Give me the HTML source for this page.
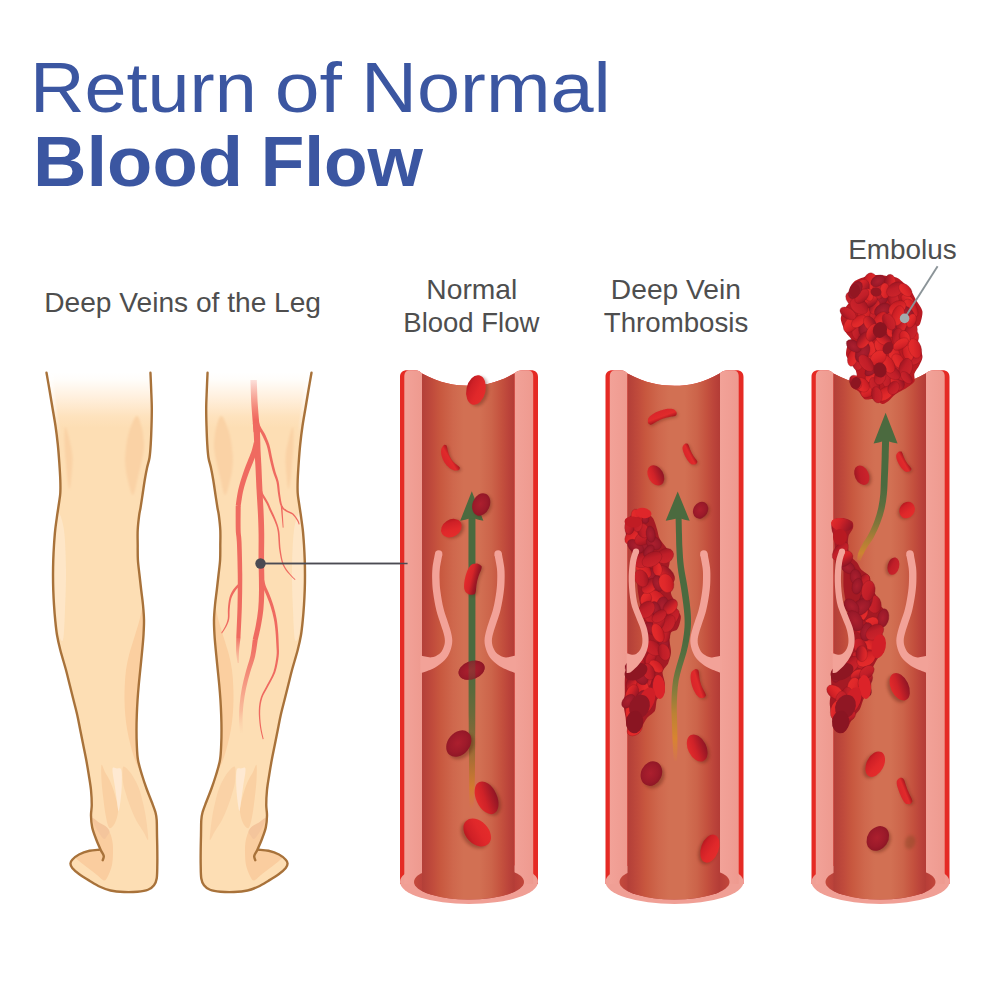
<!DOCTYPE html>
<html>
<head>
<meta charset="utf-8">
<title>Return of Normal Blood Flow</title>
<style>
html,body{margin:0;padding:0;background:#fff;}
body{width:1000px;height:1000px;overflow:hidden;font-family:"Liberation Sans",sans-serif;}
svg{display:block;}
text{font-family:"Liberation Sans",sans-serif;}
</style>
</head>
<body>
<svg width="1000" height="1000" viewBox="0 0 1000 1000">
<defs>
  <!-- lumen gradient -->
  <linearGradient id="lum" x1="0" x2="1" y1="0" y2="0">
    <stop offset="0" stop-color="#b33f38"/>
    <stop offset="0.06" stop-color="#ba453a"/>
    <stop offset="0.12" stop-color="#c14c3c"/>
    <stop offset="0.2" stop-color="#c8583f"/>
    <stop offset="0.34" stop-color="#cf684d"/>
    <stop offset="0.45" stop-color="#d27053"/>
    <stop offset="0.62" stop-color="#d27053"/>
    <stop offset="0.75" stop-color="#cc644a"/>
    <stop offset="0.86" stop-color="#c4513e"/>
    <stop offset="0.94" stop-color="#bb433a"/>
    <stop offset="1" stop-color="#b33c36"/>
  </linearGradient>
  <linearGradient id="lumEnd" x1="0" x2="1" y1="0" y2="0">
    <stop offset="0" stop-color="#c44a3c"/>
    <stop offset="0.08" stop-color="#b9413a"/>
    <stop offset="0.92" stop-color="#b83e38"/>
    <stop offset="1" stop-color="#c2473b"/>
  </linearGradient>
  <linearGradient id="wallL" x1="0" x2="1" y1="0" y2="0">
    <stop offset="0" stop-color="#f2a298"/>
    <stop offset="0.5" stop-color="#f09e94"/>
    <stop offset="1" stop-color="#ee9a8f"/>
  </linearGradient>
  <!-- leg fade -->
  <linearGradient id="legG" gradientUnits="userSpaceOnUse" x1="0" y1="372" x2="0" y2="428">
    <stop offset="0" stop-color="#ffffff"/>
    <stop offset="0.14" stop-color="#fffdfa"/>
    <stop offset="0.45" stop-color="#fff0de"/>
    <stop offset="0.8" stop-color="#fee2bd"/>
    <stop offset="1" stop-color="#fddeb4"/>
  </linearGradient>
  <filter id="bs" x="-30%" y="-30%" width="160%" height="160%"><feGaussianBlur stdDeviation="0.9"/></filter>
  <linearGradient id="veinG" gradientUnits="userSpaceOnUse" x1="0" y1="378" x2="0" y2="420">
    <stop offset="0" stop-color="#f0685e" stop-opacity="0.15"/>
    <stop offset="1" stop-color="#f0685e" stop-opacity="1"/>
  </linearGradient>
  <linearGradient id="veinFade" gradientUnits="userSpaceOnUse" x1="0" y1="640" x2="0" y2="735">
    <stop offset="0" stop-color="#ef6a60"/>
    <stop offset="0.35" stop-color="#f38b78"/>
    <stop offset="0.75" stop-color="#f8b294" stop-opacity="0.8"/>
    <stop offset="1" stop-color="#fbd0a8" stop-opacity="0"/>
  </linearGradient>
  <linearGradient id="veinFade2" gradientUnits="userSpaceOnUse" x1="0" y1="636" x2="0" y2="664">
    <stop offset="0" stop-color="#ef6a60"/>
    <stop offset="1" stop-color="#f6a088" stop-opacity="0.3"/>
  </linearGradient>

  <filter id="bl" x="-50%" y="-50%" width="200%" height="200%"><feGaussianBlur stdDeviation="1.6"/></filter>
  <linearGradient id="cB" x1="0" x2="1" y1="0.3" y2="0.7">
    <stop offset="0" stop-color="#b4181f"/><stop offset="0.22" stop-color="#cf2026"/><stop offset="0.6" stop-color="#e0282a"/><stop offset="1" stop-color="#e52c2b"/>
  </linearGradient>
  <linearGradient id="cK" x1="0" x2="1" y1="0.3" y2="0.7">
    <stop offset="0" stop-color="#9c1622"/><stop offset="0.4" stop-color="#c01e28"/><stop offset="1" stop-color="#cc242b"/>
  </linearGradient>
  <radialGradient id="cD" cx="0.45" cy="0.5" r="0.6">
    <stop offset="0" stop-color="#ac1f2e"/><stop offset="0.6" stop-color="#9c1a2a"/><stop offset="1" stop-color="#8a1524"/>
  </radialGradient>
  <linearGradient id="cM" x1="0" x2="1" y1="0.4" y2="0.6">
    <stop offset="0" stop-color="#e32b2b"/><stop offset="0.4" stop-color="#cf2228"/><stop offset="0.75" stop-color="#a81a26"/><stop offset="1" stop-color="#8e1524"/>
  </linearGradient>
  <linearGradient id="cBc" x1="0" x2="1" y1="0" y2="0">
    <stop offset="0" stop-color="#d9252a"/><stop offset="0.6" stop-color="#e12a2b"/><stop offset="1" stop-color="#a8161e"/>
  </linearGradient>
  <linearGradient id="cMc" x1="0" x2="1" y1="0" y2="0">
    <stop offset="0" stop-color="#e42c2b"/><stop offset="0.45" stop-color="#d52429"/><stop offset="0.8" stop-color="#a01824"/><stop offset="1" stop-color="#8c1422"/>
  </linearGradient>
  <linearGradient id="cDc" x1="0" x2="1" y1="0" y2="0">
    <stop offset="0" stop-color="#a81c2a"/><stop offset="1" stop-color="#8a1524"/>
  </linearGradient>
  <linearGradient id="ag1" gradientUnits="userSpaceOnUse" x1="0" y1="660" x2="0" y2="810">
    <stop offset="0" stop-color="#4b6a3f"/><stop offset="0.2" stop-color="#5a6a3c"/><stop offset="0.37" stop-color="#6c6a3a"/><stop offset="0.53" stop-color="#886838"/><stop offset="0.7" stop-color="#b27034"/><stop offset="0.85" stop-color="#d27a30"/><stop offset="1" stop-color="#d67c34" stop-opacity="0"/>
  </linearGradient>
  <linearGradient id="ag2" gradientUnits="userSpaceOnUse" x1="0" y1="640" x2="0" y2="763">
    <stop offset="0" stop-color="#4b6a3f"/><stop offset="0.22" stop-color="#5f7340"/><stop offset="0.42" stop-color="#887c3c"/><stop offset="0.6" stop-color="#bc8234"/><stop offset="0.8" stop-color="#d88430"/><stop offset="1" stop-color="#da8634" stop-opacity="0"/>
  </linearGradient>
  <linearGradient id="ag3" gradientUnits="userSpaceOnUse" x1="0" y1="486" x2="0" y2="564">
    <stop offset="0" stop-color="#4b6a3f"/><stop offset="0.25" stop-color="#5c6e3e"/><stop offset="0.48" stop-color="#7f763a"/><stop offset="0.68" stop-color="#ac7e36"/><stop offset="0.86" stop-color="#cc8430"/><stop offset="1" stop-color="#d08634" stop-opacity="0"/>
  </linearGradient>
  <!-- vessel body, local x 0..138 -->
  <g id="vessel">
    <!-- outer red silhouette with dipped top -->
    <path d="M0,884 L0,377 C0,372.5 2.5,370.2 7,370.2 L15,370.2 C18.5,370.2 20.5,372 22,373.6 C40,383.5 55,385.8 69,385.8 C83,385.8 98,383 114.5,373.2 C116.5,371.5 119,370.2 123,370.2 L131,370.2 C135.5,370.2 138,372.5 138,377 L138,884 Z" fill="#e52a24"/>
    <!-- bottom pink ellipse -->
    <ellipse cx="69" cy="882" rx="69" ry="22" fill="#f09f95"/>
    <!-- pink walls -->
    <path d="M4.3,884 L4.3,377 C4.3,372.5 6,370.3 10,370.3 L15,370.3 C18.5,370.3 20.5,372 22,373.6 L22,884 Z" fill="url(#wallL)"/>
    <path d="M133.2,884 L133.2,377 C133.2,372.5 131.5,370.3 127.5,370.3 L123,370.3 C119,370.3 116.5,371.5 114.5,373.2 L114.5,884 Z" fill="url(#wallL)"/>
    <!-- lumen opening bottom (inner ellipse) -->
    <ellipse cx="69" cy="882" rx="55" ry="17.5" fill="url(#lumEnd)"/>
    <!-- lumen -->
    <path d="M22,373.6 C40,383.5 55,385.8 69,385.8 C83,385.8 98,383 114.5,373.2 L114.5,891.8 A55,17.5 0 0 1 22,891.1 Z" fill="url(#lum)"/>
  </g>
</defs>

<rect width="1000" height="1000" fill="#ffffff"/>

<!-- TITLE -->
<g fill="#3b56a1">
  <text id="t1a" x="30.01" y="111.50" font-size="69.90" textLength="226.74" lengthAdjust="spacingAndGlyphs">Return</text>
  <text id="t1b" x="274.73" y="111.50" font-size="69.90" textLength="67.27" lengthAdjust="spacingAndGlyphs">of</text>
  <text id="t1c" x="360.95" y="111.50" font-size="69.90" textLength="249.89" lengthAdjust="spacingAndGlyphs">Normal</text>
  <text id="t2a" x="32.95" y="185.60" font-size="71.30" font-weight="bold" textLength="210.10" lengthAdjust="spacingAndGlyphs">Blood</text>
  <text id="t2b" x="260.68" y="185.60" font-size="71.30" font-weight="bold" textLength="162.32" lengthAdjust="spacingAndGlyphs">Flow</text>
</g>

<!-- LABELS -->
<g fill="#4e4e4e">
  <text id="l1" x="44.22" y="311.50" font-size="27.40" textLength="276.80" lengthAdjust="spacingAndGlyphs">Deep Veins of the Leg</text>
  <text id="l2" x="426.32" y="299.30" font-size="27.40" textLength="90.95" lengthAdjust="spacingAndGlyphs">Normal</text>
  <text id="l3" x="403.29" y="332.10" font-size="27.40" textLength="136.13" lengthAdjust="spacingAndGlyphs">Blood Flow</text>
  <text id="l4" x="610.89" y="299.30" font-size="27.40" textLength="130.08" lengthAdjust="spacingAndGlyphs">Deep Vein</text>
  <text id="l5" x="603.79" y="332.10" font-size="27.40" textLength="144.56" lengthAdjust="spacingAndGlyphs">Thrombosis</text>
  <text id="l6" x="848.26" y="259.40" font-size="27.40" textLength="108.48" lengthAdjust="spacingAndGlyphs">Embolus</text>
</g>

<!-- LEGS -->
<g id="legs">
<g id="legL">
<path d="M46.50,372.75 C47.00,375.62 48.50,384.12 49.50,390.00 C50.50,395.88 51.50,402.00 52.50,408.00 C53.50,414.00 54.62,420.00 55.50,426.00 C56.38,432.00 57.12,438.00 57.75,444.00 C58.38,450.00 58.83,456.00 59.25,462.00 C59.67,468.00 60.12,474.83 60.30,480.00 C60.47,485.17 60.52,489.17 60.30,493.00 C60.08,496.83 59.52,499.33 59.00,503.00 C58.48,506.67 57.83,510.50 57.20,515.00 C56.57,519.50 55.73,525.00 55.20,530.00 C54.67,535.00 54.33,540.00 54.00,545.00 C53.67,550.00 53.42,555.00 53.25,560.00 C53.08,565.00 53.00,570.00 53.00,575.00 C53.00,580.00 53.08,585.00 53.25,590.00 C53.42,595.00 53.67,600.00 54.00,605.00 C54.33,610.00 54.70,615.00 55.20,620.00 C55.70,625.00 56.15,630.00 57.00,635.00 C57.85,640.00 58.80,644.17 60.30,650.00 C61.80,655.83 64.42,664.17 66.00,670.00 C67.58,675.83 68.50,680.00 69.75,685.00 C71.00,690.00 72.25,695.00 73.50,700.00 C74.75,705.00 76.12,710.00 77.25,715.00 C78.38,720.00 79.25,725.00 80.25,730.00 C81.25,735.00 82.25,740.00 83.25,745.00 C84.25,750.00 85.33,755.00 86.25,760.00 C87.17,765.00 88.01,770.00 88.80,775.00 C89.59,780.00 90.51,785.00 91.00,790.00 C91.49,795.00 91.75,800.75 91.75,805.00 C91.75,809.25 90.92,811.75 91.00,815.50 C91.08,819.25 91.33,823.50 92.20,827.50 C93.08,831.50 94.83,835.75 96.25,839.50 C97.67,843.25 100.00,848.25 100.75,850.00 L99.25,849.70 C97.62,849.88 92.88,849.95 89.50,850.75 C86.12,851.55 81.88,853.00 79.00,854.50 C76.12,856.00 73.67,858.25 72.25,859.75 C70.83,861.25 70.45,862.12 70.45,863.50 C70.45,864.88 70.83,866.25 72.25,868.00 C73.67,869.75 76.12,871.88 79.00,874.00 C81.88,876.12 86.00,878.62 89.50,880.75 C93.00,882.88 96.50,885.12 100.00,886.75 C103.50,888.38 106.50,889.62 110.50,890.50 C114.50,891.38 119.50,891.80 124.00,892.00 C128.50,892.20 133.50,892.08 137.50,891.70 C141.50,891.33 145.25,890.83 148.00,889.75 C150.75,888.67 152.55,887.12 154.00,885.25 C155.45,883.38 156.15,881.88 156.70,878.50 C157.25,875.12 157.20,869.75 157.30,865.00 C157.40,860.25 157.35,855.00 157.30,850.00 C157.25,845.00 157.10,840.00 157.00,835.00 C156.90,830.00 156.95,823.75 156.70,820.00 C156.45,816.25 156.32,815.50 155.50,812.50 C154.68,809.50 153.25,806.00 151.75,802.00 C150.25,798.00 148.12,793.00 146.50,788.50 C144.88,784.00 143.42,779.75 142.00,775.00 C140.58,770.25 138.87,765.00 138.00,760.00 C137.13,755.00 137.05,750.00 136.80,745.00 C136.55,740.00 136.50,735.00 136.50,730.00 C136.50,725.00 136.62,720.00 136.80,715.00 C136.98,710.00 137.23,705.00 137.55,700.00 C137.88,695.00 138.30,690.00 138.75,685.00 C139.20,680.00 139.75,675.00 140.25,670.00 C140.75,665.00 141.34,659.17 141.75,655.00 C142.16,650.83 142.41,648.33 142.70,645.00 C142.99,641.67 143.28,639.17 143.50,635.00 C143.72,630.83 144.08,625.00 144.00,620.00 C143.92,615.00 143.47,610.00 143.00,605.00 C142.53,600.00 141.78,595.00 141.20,590.00 C140.62,585.00 140.05,580.00 139.50,575.00 C138.95,570.00 138.20,565.00 137.90,560.00 C137.60,555.00 137.73,550.00 137.70,545.00 C137.67,540.00 137.45,535.00 137.70,530.00 C137.95,525.00 138.73,518.67 139.20,515.00 C139.67,511.33 139.95,511.33 140.50,508.00 C141.05,504.67 141.79,499.67 142.50,495.00 C143.21,490.33 144.00,484.50 144.75,480.00 C145.50,475.50 146.20,471.75 147.00,468.00 C147.80,464.25 148.93,461.50 149.55,457.50 C150.18,453.50 150.43,449.25 150.75,444.00 C151.07,438.75 151.32,432.00 151.50,426.00 C151.68,420.00 151.85,414.00 151.80,408.00 C151.75,402.00 151.42,395.88 151.20,390.00 C150.97,384.12 150.57,375.62 150.45,372.75 Z" fill="url(#legG)"/>
<g id="legshade"><path d="M48,374 L52.5,374 C54,395 56.5,415 60,436 C56,420 51,397 48,374Z" fill="#ffffff" opacity="0.5" filter="url(#bs)"/>
<path d="M65.20,427.00 C66.03,426.17 68.28,435.00 69.50,440.00 C70.72,445.00 72.17,451.17 72.50,457.00 C72.83,462.83 71.97,469.67 71.50,475.00 C71.03,480.33 70.37,488.17 69.70,489.00 C69.03,489.83 68.12,484.00 67.50,480.00 C66.88,476.00 66.50,470.83 66.00,465.00 C65.50,459.17 64.63,451.33 64.50,445.00 C64.37,438.67 64.37,427.83 65.20,427.00 Z" fill="#fad2a5" filter="url(#bs)"/>
<path d="M136.50,416.00 C138.62,415.25 140.50,422.83 141.75,427.50 C143.00,432.17 143.88,439.00 144.00,444.00 C144.12,449.00 143.50,452.00 142.50,457.50 C141.50,463.00 139.58,470.75 138.00,477.00 C136.42,483.25 134.67,494.33 133.00,495.00 C131.33,495.67 129.28,486.00 128.00,481.00 C126.72,476.00 125.68,470.17 125.30,465.00 C124.92,459.83 125.08,455.50 125.70,450.00 C126.32,444.50 127.20,437.67 129.00,432.00 C130.80,426.33 134.38,416.75 136.50,416.00 Z" fill="#fad2a5" filter="url(#bs)"/>
<path d="M58.00,512.00 C59.42,511.17 62.67,520.33 64.00,530.00 C65.33,539.67 65.83,556.67 66.00,570.00 C66.17,583.33 65.50,598.33 65.00,610.00 C64.50,621.67 64.08,636.33 63.00,640.00 C61.92,643.67 59.83,638.67 58.50,632.00 C57.17,625.33 55.67,611.17 55.00,600.00 C54.33,588.83 54.42,575.83 54.50,565.00 C54.58,554.17 54.92,543.83 55.50,535.00 C56.08,526.17 56.58,512.83 58.00,512.00 Z" fill="#fee9cf" opacity="0.7"/>
<path d="M143.20,606.00 C143.92,605.67 143.42,614.33 143.30,620.00 C143.18,625.67 142.88,633.33 142.50,640.00 C142.12,646.67 141.58,653.33 141.00,660.00 C140.42,666.67 139.67,673.33 139.00,680.00 C138.33,686.67 137.47,693.33 137.00,700.00 C136.53,706.67 136.37,713.33 136.20,720.00 C136.03,726.67 135.87,734.17 136.00,740.00 C136.13,745.83 136.50,750.33 137.00,755.00 C137.50,759.67 139.33,767.17 139.00,768.00 C138.67,768.83 136.42,763.83 135.00,760.00 C133.58,756.17 131.80,750.00 130.50,745.00 C129.20,740.00 128.07,735.00 127.20,730.00 C126.33,725.00 125.70,720.00 125.25,715.00 C124.80,710.00 124.58,705.00 124.50,700.00 C124.42,695.00 124.55,690.00 124.80,685.00 C125.05,680.00 125.30,675.00 126.00,670.00 C126.70,665.00 127.75,660.00 129.00,655.00 C130.25,650.00 131.83,645.50 133.50,640.00 C135.17,634.50 137.38,627.67 139.00,622.00 C140.62,616.33 142.48,606.33 143.20,606.00 Z" fill="#fbcfa0"/>
<path d="M101.50,765.00 C102.08,763.67 103.67,769.50 105.00,772.00 C106.33,774.50 108.08,777.00 109.50,780.00 C110.92,783.00 112.25,786.17 113.50,790.00 C114.75,793.83 116.25,799.33 117.00,803.00 C117.75,806.67 118.33,808.67 118.00,812.00 C117.67,815.33 116.42,820.33 115.00,823.00 C113.58,825.67 111.00,829.00 109.50,828.00 C108.00,827.00 107.05,822.08 106.00,817.00 C104.95,811.92 103.95,803.67 103.20,797.50 C102.45,791.33 101.78,785.42 101.50,780.00 C101.22,774.58 100.92,766.33 101.50,765.00 Z" fill="#fad0a2"/>
<path d="M112.50,769.00 C112.87,766.08 115.53,768.33 117.00,768.50 C118.47,768.67 120.50,767.25 121.30,770.00 C122.10,772.75 121.92,780.00 121.80,785.00 C121.68,790.00 121.13,795.67 120.60,800.00 C120.07,804.33 119.23,811.00 118.60,811.00 C117.97,811.00 117.43,804.17 116.80,800.00 C116.17,795.83 115.52,791.17 114.80,786.00 C114.08,780.83 112.13,771.92 112.50,769.00 Z" fill="#fee9d2"/>
<path d="M123.00,767.00 C124.00,765.17 127.00,768.83 129.00,771.00 C131.00,773.17 133.25,776.83 135.00,780.00 C136.75,783.17 138.17,786.17 139.50,790.00 C140.83,793.83 142.00,798.83 143.00,803.00 C144.00,807.17 144.75,810.50 145.50,815.00 C146.25,819.50 147.08,825.83 147.50,830.00 C147.92,834.17 148.67,839.67 148.00,840.00 C147.33,840.33 145.50,835.33 143.50,832.00 C141.50,828.67 138.25,824.33 136.00,820.00 C133.75,815.67 131.67,810.33 130.00,806.00 C128.33,801.67 127.17,798.00 126.00,794.00 C124.83,790.00 123.50,786.50 123.00,782.00 C122.50,777.50 122.00,768.83 123.00,767.00 Z" fill="#fad2a6"/>
<path d="M93.00,819.00 C94.17,818.00 97.83,822.67 100.00,824.00 C102.17,825.33 104.33,825.50 106.00,827.00 C107.67,828.50 108.92,830.50 110.00,833.00 C111.08,835.50 112.00,838.83 112.50,842.00 C113.00,845.17 113.08,848.17 113.00,852.00 C112.92,855.83 112.83,861.00 112.00,865.00 C111.17,869.00 109.33,873.42 108.00,876.00 C106.67,878.58 105.83,880.67 104.00,880.50 C102.17,880.33 99.67,877.08 97.00,875.00 C94.33,872.92 91.00,870.33 88.00,868.00 C85.00,865.67 81.00,862.83 79.00,861.00 C77.00,859.17 75.17,858.25 76.00,857.00 C76.83,855.75 80.83,854.50 84.00,853.50 C87.17,852.50 92.17,851.33 95.00,851.00 C97.83,850.67 99.50,850.50 101.00,851.50 C102.50,852.50 103.75,855.42 104.00,857.00 C104.25,858.58 103.00,861.67 102.50,861.00 C102.00,860.33 101.92,856.17 101.00,853.00 C100.08,849.83 98.33,845.83 97.00,842.00 C95.67,838.17 93.67,833.83 93.00,830.00 C92.33,826.17 91.83,820.00 93.00,819.00 Z" fill="#facd9f"/>
<path d="M92.50,818.00 C93.17,817.42 96.75,821.08 99.00,822.50 C101.25,823.92 104.25,825.00 106.00,826.50 C107.75,828.00 109.33,829.92 109.50,831.50 C109.67,833.08 107.92,834.75 107.00,836.00 C106.08,837.25 105.33,839.50 104.00,839.00 C102.67,838.50 100.50,835.17 99.00,833.00 C97.50,830.83 96.08,828.50 95.00,826.00 C93.92,823.50 91.83,818.58 92.50,818.00 Z" fill="#f4c59c"/>
</g>
<path d="M46.50,372.75 C47.00,375.62 48.50,384.12 49.50,390.00 C50.50,395.88 51.50,402.00 52.50,408.00 C53.50,414.00 54.62,420.00 55.50,426.00 C56.38,432.00 57.12,438.00 57.75,444.00 C58.38,450.00 58.83,456.00 59.25,462.00 C59.67,468.00 60.12,474.83 60.30,480.00 C60.47,485.17 60.52,489.17 60.30,493.00 C60.08,496.83 59.52,499.33 59.00,503.00 C58.48,506.67 57.83,510.50 57.20,515.00 C56.57,519.50 55.73,525.00 55.20,530.00 C54.67,535.00 54.33,540.00 54.00,545.00 C53.67,550.00 53.42,555.00 53.25,560.00 C53.08,565.00 53.00,570.00 53.00,575.00 C53.00,580.00 53.08,585.00 53.25,590.00 C53.42,595.00 53.67,600.00 54.00,605.00 C54.33,610.00 54.70,615.00 55.20,620.00 C55.70,625.00 56.15,630.00 57.00,635.00 C57.85,640.00 58.80,644.17 60.30,650.00 C61.80,655.83 64.42,664.17 66.00,670.00 C67.58,675.83 68.50,680.00 69.75,685.00 C71.00,690.00 72.25,695.00 73.50,700.00 C74.75,705.00 76.12,710.00 77.25,715.00 C78.38,720.00 79.25,725.00 80.25,730.00 C81.25,735.00 82.25,740.00 83.25,745.00 C84.25,750.00 85.33,755.00 86.25,760.00 C87.17,765.00 88.01,770.00 88.80,775.00 C89.59,780.00 90.51,785.00 91.00,790.00 C91.49,795.00 91.75,800.75 91.75,805.00 C91.75,809.25 90.92,811.75 91.00,815.50 C91.08,819.25 91.33,823.50 92.20,827.50 C93.08,831.50 94.83,835.75 96.25,839.50 C97.67,843.25 99.50,847.25 100.75,850.00 C102.00,852.75 103.42,854.30 103.75,856.00 C104.08,857.70 102.88,859.50 102.70,860.20" fill="none" stroke="#a8723a" stroke-width="2.4" stroke-linecap="round" stroke-linejoin="round"/>
<path d="M150.45,372.75 C150.57,375.62 150.97,384.12 151.20,390.00 C151.42,395.88 151.75,402.00 151.80,408.00 C151.85,414.00 151.68,420.00 151.50,426.00 C151.32,432.00 151.07,438.75 150.75,444.00 C150.43,449.25 150.18,453.50 149.55,457.50 C148.93,461.50 147.80,464.25 147.00,468.00 C146.20,471.75 145.50,475.50 144.75,480.00 C144.00,484.50 143.21,490.33 142.50,495.00 C141.79,499.67 141.05,504.67 140.50,508.00 C139.95,511.33 139.67,511.33 139.20,515.00 C138.73,518.67 137.95,525.00 137.70,530.00 C137.45,535.00 137.67,540.00 137.70,545.00 C137.73,550.00 137.60,555.00 137.90,560.00 C138.20,565.00 138.95,570.00 139.50,575.00 C140.05,580.00 140.62,585.00 141.20,590.00 C141.78,595.00 142.53,600.00 143.00,605.00 C143.47,610.00 143.92,615.00 144.00,620.00 C144.08,625.00 143.72,630.83 143.50,635.00 C143.28,639.17 142.99,641.67 142.70,645.00 C142.41,648.33 142.16,650.83 141.75,655.00 C141.34,659.17 140.75,665.00 140.25,670.00 C139.75,675.00 139.20,680.00 138.75,685.00 C138.30,690.00 137.88,695.00 137.55,700.00 C137.23,705.00 136.98,710.00 136.80,715.00 C136.62,720.00 136.50,725.00 136.50,730.00 C136.50,735.00 136.55,740.00 136.80,745.00 C137.05,750.00 137.13,755.00 138.00,760.00 C138.87,765.00 140.58,770.25 142.00,775.00 C143.42,779.75 144.88,784.00 146.50,788.50 C148.12,793.00 150.25,798.00 151.75,802.00 C153.25,806.00 154.68,809.50 155.50,812.50 C156.32,815.50 156.45,816.25 156.70,820.00 C156.95,823.75 156.90,830.00 157.00,835.00 C157.10,840.00 157.25,845.00 157.30,850.00 C157.35,855.00 157.40,860.25 157.30,865.00 C157.20,869.75 157.25,875.12 156.70,878.50 C156.15,881.88 155.45,883.38 154.00,885.25 C152.55,887.12 150.75,888.67 148.00,889.75 C145.25,890.83 141.50,891.33 137.50,891.70 C133.50,892.08 128.50,892.20 124.00,892.00 C119.50,891.80 114.50,891.38 110.50,890.50 C106.50,889.62 103.50,888.38 100.00,886.75 C96.50,885.12 93.00,882.88 89.50,880.75 C86.00,878.62 81.88,876.12 79.00,874.00 C76.12,871.88 73.67,869.75 72.25,868.00 C70.83,866.25 70.45,864.88 70.45,863.50 C70.45,862.12 70.83,861.25 72.25,859.75 C73.67,858.25 76.12,856.00 79.00,854.50 C81.88,853.00 86.12,851.55 89.50,850.75 C92.88,849.95 97.62,849.88 99.25,849.70" fill="none" stroke="#a8723a" stroke-width="2.4" stroke-linecap="round" stroke-linejoin="round"/>
</g>
<g id="legR" transform="translate(358,0) scale(-1,1)">
<path d="M46.50,372.75 C47.00,375.62 48.50,384.12 49.50,390.00 C50.50,395.88 51.50,402.00 52.50,408.00 C53.50,414.00 54.62,420.00 55.50,426.00 C56.38,432.00 57.12,438.00 57.75,444.00 C58.38,450.00 58.83,456.00 59.25,462.00 C59.67,468.00 60.12,474.83 60.30,480.00 C60.47,485.17 60.52,489.17 60.30,493.00 C60.08,496.83 59.52,499.33 59.00,503.00 C58.48,506.67 57.83,510.50 57.20,515.00 C56.57,519.50 55.73,525.00 55.20,530.00 C54.67,535.00 54.33,540.00 54.00,545.00 C53.67,550.00 53.42,555.00 53.25,560.00 C53.08,565.00 53.00,570.00 53.00,575.00 C53.00,580.00 53.08,585.00 53.25,590.00 C53.42,595.00 53.67,600.00 54.00,605.00 C54.33,610.00 54.70,615.00 55.20,620.00 C55.70,625.00 56.15,630.00 57.00,635.00 C57.85,640.00 58.80,644.17 60.30,650.00 C61.80,655.83 64.42,664.17 66.00,670.00 C67.58,675.83 68.50,680.00 69.75,685.00 C71.00,690.00 72.25,695.00 73.50,700.00 C74.75,705.00 76.12,710.00 77.25,715.00 C78.38,720.00 79.25,725.00 80.25,730.00 C81.25,735.00 82.25,740.00 83.25,745.00 C84.25,750.00 85.33,755.00 86.25,760.00 C87.17,765.00 88.01,770.00 88.80,775.00 C89.59,780.00 90.51,785.00 91.00,790.00 C91.49,795.00 91.75,800.75 91.75,805.00 C91.75,809.25 90.92,811.75 91.00,815.50 C91.08,819.25 91.33,823.50 92.20,827.50 C93.08,831.50 94.83,835.75 96.25,839.50 C97.67,843.25 100.00,848.25 100.75,850.00 L99.25,849.70 C97.62,849.88 92.88,849.95 89.50,850.75 C86.12,851.55 81.88,853.00 79.00,854.50 C76.12,856.00 73.67,858.25 72.25,859.75 C70.83,861.25 70.45,862.12 70.45,863.50 C70.45,864.88 70.83,866.25 72.25,868.00 C73.67,869.75 76.12,871.88 79.00,874.00 C81.88,876.12 86.00,878.62 89.50,880.75 C93.00,882.88 96.50,885.12 100.00,886.75 C103.50,888.38 106.50,889.62 110.50,890.50 C114.50,891.38 119.50,891.80 124.00,892.00 C128.50,892.20 133.50,892.08 137.50,891.70 C141.50,891.33 145.25,890.83 148.00,889.75 C150.75,888.67 152.55,887.12 154.00,885.25 C155.45,883.38 156.15,881.88 156.70,878.50 C157.25,875.12 157.20,869.75 157.30,865.00 C157.40,860.25 157.35,855.00 157.30,850.00 C157.25,845.00 157.10,840.00 157.00,835.00 C156.90,830.00 156.95,823.75 156.70,820.00 C156.45,816.25 156.32,815.50 155.50,812.50 C154.68,809.50 153.25,806.00 151.75,802.00 C150.25,798.00 148.12,793.00 146.50,788.50 C144.88,784.00 143.42,779.75 142.00,775.00 C140.58,770.25 138.87,765.00 138.00,760.00 C137.13,755.00 137.05,750.00 136.80,745.00 C136.55,740.00 136.50,735.00 136.50,730.00 C136.50,725.00 136.62,720.00 136.80,715.00 C136.98,710.00 137.23,705.00 137.55,700.00 C137.88,695.00 138.30,690.00 138.75,685.00 C139.20,680.00 139.75,675.00 140.25,670.00 C140.75,665.00 141.34,659.17 141.75,655.00 C142.16,650.83 142.41,648.33 142.70,645.00 C142.99,641.67 143.28,639.17 143.50,635.00 C143.72,630.83 144.08,625.00 144.00,620.00 C143.92,615.00 143.47,610.00 143.00,605.00 C142.53,600.00 141.78,595.00 141.20,590.00 C140.62,585.00 140.05,580.00 139.50,575.00 C138.95,570.00 138.20,565.00 137.90,560.00 C137.60,555.00 137.73,550.00 137.70,545.00 C137.67,540.00 137.45,535.00 137.70,530.00 C137.95,525.00 138.73,518.67 139.20,515.00 C139.67,511.33 139.95,511.33 140.50,508.00 C141.05,504.67 141.79,499.67 142.50,495.00 C143.21,490.33 144.00,484.50 144.75,480.00 C145.50,475.50 146.20,471.75 147.00,468.00 C147.80,464.25 148.93,461.50 149.55,457.50 C150.18,453.50 150.43,449.25 150.75,444.00 C151.07,438.75 151.32,432.00 151.50,426.00 C151.68,420.00 151.85,414.00 151.80,408.00 C151.75,402.00 151.42,395.88 151.20,390.00 C150.97,384.12 150.57,375.62 150.45,372.75 Z" fill="url(#legG)"/>
<g id="legshadeR"><path d="M48,374 L52.5,374 C54,395 56.5,415 60,436 C56,420 51,397 48,374Z" fill="#ffffff" opacity="0.5" filter="url(#bs)"/>
<path d="M65.20,427.00 C66.03,426.17 68.28,435.00 69.50,440.00 C70.72,445.00 72.17,451.17 72.50,457.00 C72.83,462.83 71.97,469.67 71.50,475.00 C71.03,480.33 70.37,488.17 69.70,489.00 C69.03,489.83 68.12,484.00 67.50,480.00 C66.88,476.00 66.50,470.83 66.00,465.00 C65.50,459.17 64.63,451.33 64.50,445.00 C64.37,438.67 64.37,427.83 65.20,427.00 Z" fill="#fad2a5" filter="url(#bs)"/>
<path d="M136.50,416.00 C138.62,415.25 140.50,422.83 141.75,427.50 C143.00,432.17 143.88,439.00 144.00,444.00 C144.12,449.00 143.50,452.00 142.50,457.50 C141.50,463.00 139.58,470.75 138.00,477.00 C136.42,483.25 134.67,494.33 133.00,495.00 C131.33,495.67 129.28,486.00 128.00,481.00 C126.72,476.00 125.68,470.17 125.30,465.00 C124.92,459.83 125.08,455.50 125.70,450.00 C126.32,444.50 127.20,437.67 129.00,432.00 C130.80,426.33 134.38,416.75 136.50,416.00 Z" fill="#fad2a5" filter="url(#bs)"/>
<path d="M58.00,512.00 C59.42,511.17 62.67,520.33 64.00,530.00 C65.33,539.67 65.83,556.67 66.00,570.00 C66.17,583.33 65.50,598.33 65.00,610.00 C64.50,621.67 64.08,636.33 63.00,640.00 C61.92,643.67 59.83,638.67 58.50,632.00 C57.17,625.33 55.67,611.17 55.00,600.00 C54.33,588.83 54.42,575.83 54.50,565.00 C54.58,554.17 54.92,543.83 55.50,535.00 C56.08,526.17 56.58,512.83 58.00,512.00 Z" fill="#fee9cf" opacity="0.7"/>
<path d="M143.20,606.00 C143.92,605.67 143.42,614.33 143.30,620.00 C143.18,625.67 142.88,633.33 142.50,640.00 C142.12,646.67 141.58,653.33 141.00,660.00 C140.42,666.67 139.67,673.33 139.00,680.00 C138.33,686.67 137.47,693.33 137.00,700.00 C136.53,706.67 136.37,713.33 136.20,720.00 C136.03,726.67 135.87,734.17 136.00,740.00 C136.13,745.83 136.50,750.33 137.00,755.00 C137.50,759.67 139.33,767.17 139.00,768.00 C138.67,768.83 136.42,763.83 135.00,760.00 C133.58,756.17 131.80,750.00 130.50,745.00 C129.20,740.00 128.07,735.00 127.20,730.00 C126.33,725.00 125.70,720.00 125.25,715.00 C124.80,710.00 124.58,705.00 124.50,700.00 C124.42,695.00 124.55,690.00 124.80,685.00 C125.05,680.00 125.30,675.00 126.00,670.00 C126.70,665.00 127.75,660.00 129.00,655.00 C130.25,650.00 131.83,645.50 133.50,640.00 C135.17,634.50 137.38,627.67 139.00,622.00 C140.62,616.33 142.48,606.33 143.20,606.00 Z" fill="#fbcfa0"/>
<path d="M101.50,765.00 C102.08,763.67 103.67,769.50 105.00,772.00 C106.33,774.50 108.08,777.00 109.50,780.00 C110.92,783.00 112.25,786.17 113.50,790.00 C114.75,793.83 116.25,799.33 117.00,803.00 C117.75,806.67 118.33,808.67 118.00,812.00 C117.67,815.33 116.42,820.33 115.00,823.00 C113.58,825.67 111.00,829.00 109.50,828.00 C108.00,827.00 107.05,822.08 106.00,817.00 C104.95,811.92 103.95,803.67 103.20,797.50 C102.45,791.33 101.78,785.42 101.50,780.00 C101.22,774.58 100.92,766.33 101.50,765.00 Z" fill="#fad0a2"/>
<path d="M112.50,769.00 C112.87,766.08 115.53,768.33 117.00,768.50 C118.47,768.67 120.50,767.25 121.30,770.00 C122.10,772.75 121.92,780.00 121.80,785.00 C121.68,790.00 121.13,795.67 120.60,800.00 C120.07,804.33 119.23,811.00 118.60,811.00 C117.97,811.00 117.43,804.17 116.80,800.00 C116.17,795.83 115.52,791.17 114.80,786.00 C114.08,780.83 112.13,771.92 112.50,769.00 Z" fill="#fee9d2"/>
<path d="M123.00,767.00 C124.00,765.17 127.00,768.83 129.00,771.00 C131.00,773.17 133.25,776.83 135.00,780.00 C136.75,783.17 138.17,786.17 139.50,790.00 C140.83,793.83 142.00,798.83 143.00,803.00 C144.00,807.17 144.75,810.50 145.50,815.00 C146.25,819.50 147.08,825.83 147.50,830.00 C147.92,834.17 148.67,839.67 148.00,840.00 C147.33,840.33 145.50,835.33 143.50,832.00 C141.50,828.67 138.25,824.33 136.00,820.00 C133.75,815.67 131.67,810.33 130.00,806.00 C128.33,801.67 127.17,798.00 126.00,794.00 C124.83,790.00 123.50,786.50 123.00,782.00 C122.50,777.50 122.00,768.83 123.00,767.00 Z" fill="#fad2a6"/>
<path d="M93.00,819.00 C94.17,818.00 97.83,822.67 100.00,824.00 C102.17,825.33 104.33,825.50 106.00,827.00 C107.67,828.50 108.92,830.50 110.00,833.00 C111.08,835.50 112.00,838.83 112.50,842.00 C113.00,845.17 113.08,848.17 113.00,852.00 C112.92,855.83 112.83,861.00 112.00,865.00 C111.17,869.00 109.33,873.42 108.00,876.00 C106.67,878.58 105.83,880.67 104.00,880.50 C102.17,880.33 99.67,877.08 97.00,875.00 C94.33,872.92 91.00,870.33 88.00,868.00 C85.00,865.67 81.00,862.83 79.00,861.00 C77.00,859.17 75.17,858.25 76.00,857.00 C76.83,855.75 80.83,854.50 84.00,853.50 C87.17,852.50 92.17,851.33 95.00,851.00 C97.83,850.67 99.50,850.50 101.00,851.50 C102.50,852.50 103.75,855.42 104.00,857.00 C104.25,858.58 103.00,861.67 102.50,861.00 C102.00,860.33 101.92,856.17 101.00,853.00 C100.08,849.83 98.33,845.83 97.00,842.00 C95.67,838.17 93.67,833.83 93.00,830.00 C92.33,826.17 91.83,820.00 93.00,819.00 Z" fill="#facd9f"/>
<path d="M92.50,818.00 C93.17,817.42 96.75,821.08 99.00,822.50 C101.25,823.92 104.25,825.00 106.00,826.50 C107.75,828.00 109.33,829.92 109.50,831.50 C109.67,833.08 107.92,834.75 107.00,836.00 C106.08,837.25 105.33,839.50 104.00,839.00 C102.67,838.50 100.50,835.17 99.00,833.00 C97.50,830.83 96.08,828.50 95.00,826.00 C93.92,823.50 91.83,818.58 92.50,818.00 Z" fill="#f4c59c"/>
</g>
<path d="M46.50,372.75 C47.00,375.62 48.50,384.12 49.50,390.00 C50.50,395.88 51.50,402.00 52.50,408.00 C53.50,414.00 54.62,420.00 55.50,426.00 C56.38,432.00 57.12,438.00 57.75,444.00 C58.38,450.00 58.83,456.00 59.25,462.00 C59.67,468.00 60.12,474.83 60.30,480.00 C60.47,485.17 60.52,489.17 60.30,493.00 C60.08,496.83 59.52,499.33 59.00,503.00 C58.48,506.67 57.83,510.50 57.20,515.00 C56.57,519.50 55.73,525.00 55.20,530.00 C54.67,535.00 54.33,540.00 54.00,545.00 C53.67,550.00 53.42,555.00 53.25,560.00 C53.08,565.00 53.00,570.00 53.00,575.00 C53.00,580.00 53.08,585.00 53.25,590.00 C53.42,595.00 53.67,600.00 54.00,605.00 C54.33,610.00 54.70,615.00 55.20,620.00 C55.70,625.00 56.15,630.00 57.00,635.00 C57.85,640.00 58.80,644.17 60.30,650.00 C61.80,655.83 64.42,664.17 66.00,670.00 C67.58,675.83 68.50,680.00 69.75,685.00 C71.00,690.00 72.25,695.00 73.50,700.00 C74.75,705.00 76.12,710.00 77.25,715.00 C78.38,720.00 79.25,725.00 80.25,730.00 C81.25,735.00 82.25,740.00 83.25,745.00 C84.25,750.00 85.33,755.00 86.25,760.00 C87.17,765.00 88.01,770.00 88.80,775.00 C89.59,780.00 90.51,785.00 91.00,790.00 C91.49,795.00 91.75,800.75 91.75,805.00 C91.75,809.25 90.92,811.75 91.00,815.50 C91.08,819.25 91.33,823.50 92.20,827.50 C93.08,831.50 94.83,835.75 96.25,839.50 C97.67,843.25 99.50,847.25 100.75,850.00 C102.00,852.75 103.42,854.30 103.75,856.00 C104.08,857.70 102.88,859.50 102.70,860.20" fill="none" stroke="#a8723a" stroke-width="2.4" stroke-linecap="round" stroke-linejoin="round"/>
<path d="M150.45,372.75 C150.57,375.62 150.97,384.12 151.20,390.00 C151.42,395.88 151.75,402.00 151.80,408.00 C151.85,414.00 151.68,420.00 151.50,426.00 C151.32,432.00 151.07,438.75 150.75,444.00 C150.43,449.25 150.18,453.50 149.55,457.50 C148.93,461.50 147.80,464.25 147.00,468.00 C146.20,471.75 145.50,475.50 144.75,480.00 C144.00,484.50 143.21,490.33 142.50,495.00 C141.79,499.67 141.05,504.67 140.50,508.00 C139.95,511.33 139.67,511.33 139.20,515.00 C138.73,518.67 137.95,525.00 137.70,530.00 C137.45,535.00 137.67,540.00 137.70,545.00 C137.73,550.00 137.60,555.00 137.90,560.00 C138.20,565.00 138.95,570.00 139.50,575.00 C140.05,580.00 140.62,585.00 141.20,590.00 C141.78,595.00 142.53,600.00 143.00,605.00 C143.47,610.00 143.92,615.00 144.00,620.00 C144.08,625.00 143.72,630.83 143.50,635.00 C143.28,639.17 142.99,641.67 142.70,645.00 C142.41,648.33 142.16,650.83 141.75,655.00 C141.34,659.17 140.75,665.00 140.25,670.00 C139.75,675.00 139.20,680.00 138.75,685.00 C138.30,690.00 137.88,695.00 137.55,700.00 C137.23,705.00 136.98,710.00 136.80,715.00 C136.62,720.00 136.50,725.00 136.50,730.00 C136.50,735.00 136.55,740.00 136.80,745.00 C137.05,750.00 137.13,755.00 138.00,760.00 C138.87,765.00 140.58,770.25 142.00,775.00 C143.42,779.75 144.88,784.00 146.50,788.50 C148.12,793.00 150.25,798.00 151.75,802.00 C153.25,806.00 154.68,809.50 155.50,812.50 C156.32,815.50 156.45,816.25 156.70,820.00 C156.95,823.75 156.90,830.00 157.00,835.00 C157.10,840.00 157.25,845.00 157.30,850.00 C157.35,855.00 157.40,860.25 157.30,865.00 C157.20,869.75 157.25,875.12 156.70,878.50 C156.15,881.88 155.45,883.38 154.00,885.25 C152.55,887.12 150.75,888.67 148.00,889.75 C145.25,890.83 141.50,891.33 137.50,891.70 C133.50,892.08 128.50,892.20 124.00,892.00 C119.50,891.80 114.50,891.38 110.50,890.50 C106.50,889.62 103.50,888.38 100.00,886.75 C96.50,885.12 93.00,882.88 89.50,880.75 C86.00,878.62 81.88,876.12 79.00,874.00 C76.12,871.88 73.67,869.75 72.25,868.00 C70.83,866.25 70.45,864.88 70.45,863.50 C70.45,862.12 70.83,861.25 72.25,859.75 C73.67,858.25 76.12,856.00 79.00,854.50 C81.88,853.00 86.12,851.55 89.50,850.75 C92.88,849.95 97.62,849.88 99.25,849.70" fill="none" stroke="#a8723a" stroke-width="2.4" stroke-linecap="round" stroke-linejoin="round"/>
</g>
<g id="veins"><path d="M253.60,380.00 C253.67,382.00 253.87,388.33 254.00,392.00 C254.13,395.67 254.20,398.50 254.40,402.00 C254.60,405.50 254.93,409.53 255.20,413.00 C255.47,416.47 255.73,419.63 256.00,422.80 C256.27,425.97 256.67,430.47 256.80,432.00" fill="none" stroke="url(#veinG)" stroke-width="6.4" stroke-linecap="butt"/>
<path d="M252.81,423.08 C252.95,424.60 253.44,429.02 253.66,432.20 C253.88,435.37 253.96,438.80 254.11,442.12 C254.26,445.45 254.35,448.15 254.57,452.15 C254.78,456.16 255.08,459.82 255.42,466.15 C255.75,472.48 256.16,482.15 256.57,490.15 C256.99,498.14 257.59,506.81 257.93,514.12 C258.26,521.44 258.48,526.72 258.58,534.03 C258.68,541.35 258.48,550.81 258.53,558.01 C258.58,565.21 258.82,571.37 258.88,577.22 C258.95,583.08 259.05,587.85 258.94,593.13 C258.83,598.42 258.71,603.67 258.21,608.94 C257.70,614.21 256.80,619.65 255.89,624.74 C254.98,629.83 253.28,637.02 252.76,639.47 L257.64,640.53 C258.19,638.05 259.95,630.83 260.91,625.66 C261.87,620.48 262.84,614.86 263.39,609.46 C263.95,604.06 264.11,598.65 264.26,593.27 C264.41,587.89 264.35,583.06 264.32,577.18 C264.28,571.30 264.08,565.19 264.07,557.99 C264.05,550.79 264.29,541.32 264.22,533.97 C264.16,526.62 263.97,521.23 263.67,513.88 C263.37,506.52 262.81,497.86 262.43,489.85 C262.04,481.85 261.68,472.19 261.38,465.85 C261.08,459.52 260.82,455.84 260.63,451.85 C260.45,447.85 260.41,445.22 260.29,441.88 C260.17,438.54 260.12,435.03 259.94,431.80 C259.76,428.58 259.31,424.07 259.19,422.52 Z" fill="#ef6a60" />
<path d="M252.73,639.63 C252.36,642.27 251.65,650.19 250.51,655.48 C249.37,660.78 247.30,666.06 245.88,671.42 C244.46,676.77 243.02,682.20 241.99,687.60 C240.96,693.00 240.20,698.41 239.71,703.81 C239.22,709.21 239.00,715.12 239.05,720.00 C239.10,724.88 239.84,730.92 240.00,733.10 L243.20,732.90 C243.09,730.75 242.50,724.79 242.55,720.00 C242.60,715.21 242.91,709.46 243.49,704.19 C244.07,698.92 244.91,693.67 246.01,688.40 C247.12,683.13 248.61,677.90 250.12,672.58 C251.64,667.27 253.83,661.88 255.09,656.52 C256.35,651.15 257.24,643.06 257.67,640.37 Z" fill="url(#veinFade)" />
<path d="M253.80,442.26 C253.47,443.57 252.68,447.40 251.82,450.13 C250.96,452.85 250.10,454.78 248.64,458.61 C247.19,462.45 244.81,468.00 243.08,473.14 C241.36,478.27 239.51,484.01 238.29,489.42 C237.06,494.83 236.16,502.90 235.73,505.60 L240.67,506.40 C241.11,503.76 242.07,495.84 243.31,490.58 C244.56,485.32 246.38,479.86 248.12,474.86 C249.86,469.86 252.24,464.42 253.76,460.59 C255.27,456.76 256.24,454.68 257.18,451.87 C258.12,449.06 259.03,445.09 259.40,443.74 Z" fill="#ef6a60" />
<path d="M235.70,506.00 C235.71,510.01 235.59,524.05 235.78,530.07 C235.97,536.08 236.54,534.77 236.86,542.10 C237.19,549.42 237.63,563.38 237.74,574.02 C237.85,584.66 237.76,595.30 237.52,605.95 C237.28,616.60 236.50,632.59 236.30,637.91 L240.50,638.09 C240.73,632.75 241.59,616.74 241.88,606.05 C242.17,595.37 242.32,584.67 242.26,573.98 C242.20,563.29 241.81,549.25 241.54,541.90 C241.26,534.56 240.76,535.92 240.62,529.93 C240.48,523.95 240.69,509.99 240.70,506.00 Z" fill="#ef6a60" />
<path d="M236.30,637.88 C236.29,640.23 235.98,647.80 236.20,651.99 C236.42,656.19 237.37,661.20 237.60,663.04 L239.00,662.96 C239.00,661.13 238.75,656.14 239.00,652.01 C239.25,647.87 240.25,640.43 240.50,638.12 Z" fill="url(#veinFade2)" />
<path d="M238.44,583.63 C237.60,584.58 234.93,587.01 233.43,589.35 C231.92,591.70 230.33,594.42 229.41,597.71 C228.49,601.00 228.18,605.63 227.90,609.12 C227.63,612.61 228.22,615.76 227.75,618.66 C227.27,621.56 226.12,624.15 225.03,626.53 C223.93,628.91 221.82,631.87 221.18,632.94 L222.02,633.46 C222.72,632.40 224.97,629.49 226.17,627.07 C227.38,624.65 228.67,621.90 229.25,618.94 C229.84,615.97 229.34,612.72 229.70,609.28 C230.05,605.84 230.45,601.40 231.39,598.29 C232.34,595.18 233.88,592.80 235.37,590.65 C236.87,588.49 239.53,586.25 240.36,585.37 Z" fill="#ef6a60" />
<path d="M260.06,578.48 C260.45,579.83 261.46,584.02 262.40,586.57 C263.34,589.12 264.35,590.48 265.71,593.79 C267.08,597.11 269.22,602.24 270.57,606.45 C271.92,610.66 273.00,614.85 273.82,619.06 C274.65,623.27 275.08,627.22 275.51,631.71 C275.93,636.21 276.23,642.01 276.40,646.04 C276.57,650.06 277.00,651.59 276.51,655.87 C276.02,660.14 275.14,666.65 273.45,671.68 C271.77,676.70 268.50,681.72 266.40,686.00 C264.29,690.28 262.10,693.29 260.84,697.36 C259.57,701.42 258.96,705.52 258.80,710.37 C258.64,715.23 259.25,721.65 259.90,726.48 C260.56,731.30 262.24,737.17 262.71,739.30 L263.69,739.10 C263.26,736.97 261.68,731.10 261.10,726.32 C260.51,721.55 259.99,715.17 260.20,710.43 C260.41,705.68 261.06,701.78 262.36,697.84 C263.66,693.91 265.84,691.06 268.00,686.80 C270.17,682.55 273.57,677.44 275.35,672.32 C277.13,667.21 278.12,660.53 278.69,656.13 C279.27,651.74 278.90,650.07 278.80,645.96 C278.70,641.85 278.47,636.06 278.09,631.49 C277.72,626.92 277.35,622.86 276.58,618.54 C275.80,614.22 274.75,609.88 273.43,605.55 C272.12,601.23 269.99,595.96 268.69,592.61 C267.38,589.25 266.46,587.94 265.60,585.43 C264.74,582.92 263.88,578.84 263.54,577.52 Z" fill="#ef6a60" />
<path d="M255.98,424.76 C256.42,425.60 257.63,428.14 258.61,429.79 C259.59,431.44 260.51,432.03 261.86,434.66 C263.20,437.30 265.32,441.41 266.66,445.62 C268.01,449.82 268.84,455.38 269.93,459.90 C271.03,464.42 272.15,469.01 273.25,472.73 C274.34,476.45 275.70,478.52 276.52,482.23 C277.35,485.94 277.50,490.94 278.21,494.96 C278.92,498.99 279.49,503.62 280.78,506.37 C282.07,509.12 284.01,510.09 285.94,511.45 C287.86,512.81 290.49,512.99 292.34,514.53 C294.20,516.08 296.02,519.04 297.09,520.71 C298.15,522.39 298.46,523.94 298.74,524.59 L299.66,524.21 C299.41,523.53 299.18,521.88 298.11,520.09 C297.04,518.29 295.13,515.12 293.26,513.47 C291.38,511.81 288.67,511.46 286.86,510.15 C285.06,508.84 283.53,508.22 282.42,505.63 C281.31,503.05 280.81,498.61 280.19,494.64 C279.56,490.66 279.45,485.53 278.68,481.77 C277.90,478.01 276.59,475.81 275.55,472.07 C274.52,468.33 273.50,463.85 272.47,459.30 C271.43,454.75 270.66,449.11 269.34,444.78 C268.02,440.45 265.87,436.10 264.54,433.34 C263.22,430.57 262.31,429.89 261.39,428.21 C260.47,426.52 259.42,424.07 259.02,423.24 Z" fill="#ef6a60" />
<path d="M280.80,506.06 C280.96,507.92 281.45,513.65 281.78,517.25 C282.10,520.84 282.59,525.90 282.75,527.63 L283.65,527.57 C283.54,525.83 283.23,520.76 283.02,517.15 C282.81,513.55 282.50,507.81 282.40,505.94 Z" fill="#ef6a60" />
<path d="M259.38,490.44 C259.72,491.25 260.26,493.18 261.41,495.32 C262.55,497.46 264.92,500.77 266.28,503.29 C267.63,505.80 268.20,507.56 269.52,510.40 C270.84,513.24 272.82,516.90 274.17,520.32 C275.52,523.74 276.75,525.97 277.60,530.93 C278.45,535.90 278.44,544.49 279.27,550.10 C280.11,555.72 280.95,560.60 282.59,564.64 C284.24,568.69 287.10,571.81 289.15,574.36 C291.19,576.91 293.90,579.02 294.85,579.95 L295.55,579.25 C294.64,578.31 292.01,576.16 290.05,573.64 C288.10,571.13 285.36,568.11 283.81,564.16 C282.25,560.20 281.49,555.48 280.73,549.90 C279.96,544.31 280.02,535.70 279.20,530.67 C278.38,525.63 277.15,523.19 275.83,519.68 C274.51,516.17 272.56,512.50 271.28,509.60 C270.00,506.71 269.44,504.87 268.12,502.31 C266.81,499.76 264.48,496.41 263.39,494.28 C262.31,492.15 261.91,490.35 261.62,489.56 Z" fill="#ef6a60" />
<line x1="260.5" y1="563.5" x2="407.6" y2="563.5" stroke="#4b4b53" stroke-width="1.7"/>
<circle cx="260.5" cy="563.5" r="5.2" fill="#4b4b53"/>
</g>
</g>

<!-- VESSELS -->
<use href="#vessel" transform="translate(400,0)"/>
<use href="#vessel" transform="translate(605.5,0)"/>
<use href="#vessel" transform="translate(811.5,0)"/>

<g id="v1">
<line x1="262" y1="563.5" x2="407.6" y2="563.5" stroke="#4b4b53" stroke-width="1.7"/>
<path d="M435.06,553.35 C434.63,555.73 433.00,563.15 432.52,567.60 C432.05,572.06 432.10,575.94 432.20,580.09 C432.30,584.24 432.42,587.38 433.14,592.51 C433.85,597.65 434.90,604.57 436.52,610.92 C438.13,617.26 441.44,625.60 442.83,630.58 C444.23,635.57 444.84,637.83 444.90,640.84 C444.96,643.84 444.12,646.41 443.17,648.60 C442.23,650.80 441.23,652.53 439.24,653.99 C437.24,655.45 434.29,657.11 431.22,657.37 C428.15,657.63 422.62,655.94 420.80,655.56 C418.98,655.18 420.38,655.18 420.30,655.10 L420.30,672.90 C420.72,672.82 420.38,673.32 422.80,672.44 C425.21,671.56 431.12,669.70 434.78,667.63 C438.44,665.56 442.22,662.71 444.76,660.01 C447.31,657.30 448.77,654.60 450.03,651.40 C451.28,648.19 452.31,644.56 452.30,640.76 C452.29,636.97 451.40,633.90 449.97,628.62 C448.53,623.34 445.27,615.27 443.68,609.08 C442.10,602.90 441.15,596.35 440.46,591.49 C439.78,586.62 439.70,583.76 439.60,579.91 C439.50,576.06 439.42,572.61 439.88,568.40 C440.34,564.19 441.93,556.94 442.34,554.65 Z" fill="#f2a298"/><circle cx="438.7" cy="554.0" r="3.7" fill="#f2a298"/>
<path d="M494.46,554.65 C494.87,556.94 496.46,564.19 496.92,568.40 C497.38,572.61 497.30,576.06 497.20,579.91 C497.10,583.76 497.02,586.62 496.34,591.49 C495.65,596.35 494.70,602.90 493.12,609.08 C491.53,615.27 488.27,623.34 486.83,628.62 C485.40,633.90 484.51,636.97 484.50,640.76 C484.49,644.56 485.52,648.19 486.77,651.40 C488.03,654.60 489.50,657.30 492.04,660.01 C494.58,662.71 498.38,665.55 502.01,667.62 C505.63,669.70 511.41,671.56 513.79,672.44 C516.17,673.32 515.88,672.82 516.30,672.90 L516.30,655.10 C516.22,655.18 517.60,655.18 515.81,655.56 C514.03,655.94 508.63,657.64 505.59,657.38 C502.55,657.12 499.56,655.46 497.56,653.99 C495.57,652.53 494.57,650.80 493.63,648.60 C492.68,646.41 491.84,643.84 491.90,640.84 C491.96,637.83 492.57,635.57 493.97,630.58 C495.36,625.60 498.67,617.26 500.28,610.92 C501.90,604.57 502.95,597.65 503.66,592.51 C504.38,587.38 504.50,584.24 504.60,580.09 C504.70,575.94 504.75,572.06 504.28,567.60 C503.80,563.15 502.17,555.73 501.74,553.35 Z" fill="#f2a298"/><circle cx="498.1" cy="554.0" r="3.7" fill="#f2a298"/>
<ellipse cx="471.6" cy="670.2" rx="13.5" ry="9.0" transform="rotate(-20 471.6 670.2)" fill="url(#cD)"/>
<path d="M468.55,518.00 C468.55,531.67 468.54,573.00 468.55,600.00 C468.56,627.00 468.58,660.00 468.60,680.00 C468.62,700.00 468.65,708.33 468.70,720.00 C468.75,731.67 468.83,740.84 468.90,750.00 C468.97,759.16 469.03,767.49 469.10,774.99 C469.17,782.48 469.17,789.47 469.30,794.97 C469.43,800.47 469.80,805.81 469.90,807.97 L473.30,808.03 C473.47,805.86 474.03,800.53 474.30,795.03 C474.57,789.53 474.77,782.52 474.90,775.01 C475.03,767.51 475.03,759.17 475.10,750.00 C475.17,740.83 475.25,731.67 475.30,720.00 C475.35,708.33 475.38,700.00 475.40,680.00 C475.42,660.00 475.44,627.00 475.45,600.00 C475.46,573.00 475.45,531.67 475.45,518.00 Z" fill="url(#ag1)"/><path d="M471.8,491.2 L483.4,520.8 Q477.6,519.6 475.4,518.8 L468.6,518.8 Q466.0,519.6 460.2,520.8 Z" fill="#4b6a3f"/>
<ellipse cx="478.5" cy="391.5" rx="9.6" ry="15.0" transform="rotate(12 478.5 391.5)" fill="#5a1a10" opacity="0.38" filter="url(#bl)"/><ellipse cx="476.0" cy="390.0" rx="9.6" ry="15.0" transform="rotate(12 476.0 390.0)" fill="url(#cB)"/>
<path d="M-0.00,-14.50 C-0.88,-14.50 -2.67,-13.62 -3.48,-13.18 C-4.30,-12.74 -4.49,-12.30 -4.89,-11.86 C-5.28,-11.42 -5.57,-10.98 -5.85,-10.55 C-6.13,-10.11 -6.36,-9.67 -6.58,-9.23 C-6.79,-8.79 -6.97,-8.35 -7.14,-7.91 C-7.32,-7.47 -7.46,-7.03 -7.60,-6.59 C-7.74,-6.15 -7.86,-5.71 -7.96,-5.27 C-8.07,-4.83 -8.16,-4.39 -8.24,-3.95 C-8.32,-3.52 -8.39,-3.08 -8.44,-2.64 C-8.49,-2.20 -8.53,-1.76 -8.56,-1.32 C-8.59,-0.88 -8.60,-0.44 -8.60,0.00 C-8.60,0.44 -8.59,0.88 -8.56,1.32 C-8.53,1.76 -8.49,2.20 -8.44,2.64 C-8.39,3.08 -8.32,3.52 -8.24,3.95 C-8.16,4.39 -8.07,4.83 -7.96,5.27 C-7.86,5.71 -7.74,6.15 -7.60,6.59 C-7.46,7.03 -7.32,7.47 -7.14,7.91 C-6.97,8.35 -6.79,8.79 -6.58,9.23 C-6.36,9.67 -6.13,10.11 -5.85,10.55 C-5.57,10.98 -5.28,11.42 -4.89,11.86 C-4.49,12.30 -4.30,12.74 -3.48,13.18 C-2.67,13.62 -0.88,14.50 -0.00,14.50 C0.88,14.50 1.53,13.62 1.82,13.18 C2.10,12.74 1.80,12.30 1.71,11.86 C1.63,11.42 1.47,10.98 1.33,10.55 C1.19,10.11 1.02,9.67 0.86,9.23 C0.71,8.79 0.55,8.35 0.40,7.91 C0.25,7.47 0.11,7.03 -0.02,6.59 C-0.14,6.15 -0.26,5.71 -0.37,5.27 C-0.47,4.83 -0.56,4.39 -0.64,3.95 C-0.72,3.52 -0.79,3.08 -0.84,2.64 C-0.89,2.20 -0.93,1.76 -0.96,1.32 C-0.99,0.88 -1.00,0.44 -1.00,0.00 C-1.00,-0.44 -0.99,-0.88 -0.96,-1.32 C-0.93,-1.76 -0.89,-2.20 -0.84,-2.64 C-0.79,-3.08 -0.72,-3.52 -0.64,-3.95 C-0.56,-4.39 -0.47,-4.83 -0.37,-5.27 C-0.26,-5.71 -0.14,-6.15 -0.02,-6.59 C0.11,-7.03 0.25,-7.47 0.40,-7.91 C0.55,-8.35 0.71,-8.79 0.86,-9.23 C1.02,-9.67 1.19,-10.11 1.33,-10.55 C1.47,-10.98 1.63,-11.42 1.71,-11.86 C1.80,-12.30 2.10,-12.74 1.82,-13.18 C1.53,-13.62 0.88,-14.50 -0.00,-14.50 Z" transform="translate(453.0 458.5) rotate(-31)" fill="#5a1a10" opacity="0.35" filter="url(#bl)"/><path d="M-0.00,-14.50 C-0.88,-14.50 -2.67,-13.62 -3.48,-13.18 C-4.30,-12.74 -4.49,-12.30 -4.89,-11.86 C-5.28,-11.42 -5.57,-10.98 -5.85,-10.55 C-6.13,-10.11 -6.36,-9.67 -6.58,-9.23 C-6.79,-8.79 -6.97,-8.35 -7.14,-7.91 C-7.32,-7.47 -7.46,-7.03 -7.60,-6.59 C-7.74,-6.15 -7.86,-5.71 -7.96,-5.27 C-8.07,-4.83 -8.16,-4.39 -8.24,-3.95 C-8.32,-3.52 -8.39,-3.08 -8.44,-2.64 C-8.49,-2.20 -8.53,-1.76 -8.56,-1.32 C-8.59,-0.88 -8.60,-0.44 -8.60,0.00 C-8.60,0.44 -8.59,0.88 -8.56,1.32 C-8.53,1.76 -8.49,2.20 -8.44,2.64 C-8.39,3.08 -8.32,3.52 -8.24,3.95 C-8.16,4.39 -8.07,4.83 -7.96,5.27 C-7.86,5.71 -7.74,6.15 -7.60,6.59 C-7.46,7.03 -7.32,7.47 -7.14,7.91 C-6.97,8.35 -6.79,8.79 -6.58,9.23 C-6.36,9.67 -6.13,10.11 -5.85,10.55 C-5.57,10.98 -5.28,11.42 -4.89,11.86 C-4.49,12.30 -4.30,12.74 -3.48,13.18 C-2.67,13.62 -0.88,14.50 -0.00,14.50 C0.88,14.50 1.53,13.62 1.82,13.18 C2.10,12.74 1.80,12.30 1.71,11.86 C1.63,11.42 1.47,10.98 1.33,10.55 C1.19,10.11 1.02,9.67 0.86,9.23 C0.71,8.79 0.55,8.35 0.40,7.91 C0.25,7.47 0.11,7.03 -0.02,6.59 C-0.14,6.15 -0.26,5.71 -0.37,5.27 C-0.47,4.83 -0.56,4.39 -0.64,3.95 C-0.72,3.52 -0.79,3.08 -0.84,2.64 C-0.89,2.20 -0.93,1.76 -0.96,1.32 C-0.99,0.88 -1.00,0.44 -1.00,0.00 C-1.00,-0.44 -0.99,-0.88 -0.96,-1.32 C-0.93,-1.76 -0.89,-2.20 -0.84,-2.64 C-0.79,-3.08 -0.72,-3.52 -0.64,-3.95 C-0.56,-4.39 -0.47,-4.83 -0.37,-5.27 C-0.26,-5.71 -0.14,-6.15 -0.02,-6.59 C0.11,-7.03 0.25,-7.47 0.40,-7.91 C0.55,-8.35 0.71,-8.79 0.86,-9.23 C1.02,-9.67 1.19,-10.11 1.33,-10.55 C1.47,-10.98 1.63,-11.42 1.71,-11.86 C1.80,-12.30 2.10,-12.74 1.82,-13.18 C1.53,-13.62 0.88,-14.50 -0.00,-14.50 Z" transform="translate(451.5 457.5) rotate(-31)" fill="url(#cBc)"/>
<ellipse cx="482.7" cy="505.9" rx="8.6" ry="11.6" transform="rotate(22 482.7 505.9)" fill="#5a1a10" opacity="0.38" filter="url(#bl)"/><ellipse cx="481.2" cy="504.4" rx="8.6" ry="11.6" transform="rotate(22 481.2 504.4)" fill="url(#cD)"/>
<ellipse cx="453.9" cy="529.2" rx="8.6" ry="11.0" transform="rotate(58 453.9 529.2)" fill="#5a1a10" opacity="0.38" filter="url(#bl)"/><ellipse cx="451.4" cy="528.2" rx="8.6" ry="11.0" transform="rotate(58 451.4 528.2)" fill="url(#cB)"/>
<path d="M-0.00,-16.00 C-1.45,-16.00 -3.79,-15.03 -4.85,-14.55 C-5.91,-14.06 -5.96,-13.58 -6.35,-13.09 C-6.75,-12.61 -6.99,-12.12 -7.22,-11.64 C-7.46,-11.15 -7.62,-10.67 -7.78,-10.18 C-7.94,-9.70 -8.06,-9.21 -8.17,-8.73 C-8.28,-8.24 -8.37,-7.76 -8.46,-7.27 C-8.54,-6.79 -8.61,-6.30 -8.68,-5.82 C-8.74,-5.33 -8.79,-4.85 -8.84,-4.36 C-8.89,-3.88 -8.93,-3.39 -8.96,-2.91 C-8.99,-2.42 -9.01,-1.94 -9.03,-1.45 C-9.04,-0.97 -9.05,-0.48 -9.05,0.00 C-9.05,0.48 -9.04,0.97 -9.03,1.45 C-9.01,1.94 -8.99,2.42 -8.96,2.91 C-8.93,3.39 -8.89,3.88 -8.84,4.36 C-8.79,4.85 -8.74,5.33 -8.68,5.82 C-8.61,6.30 -8.54,6.79 -8.46,7.27 C-8.37,7.76 -8.28,8.24 -8.17,8.73 C-8.06,9.21 -7.94,9.70 -7.78,10.18 C-7.62,10.67 -7.46,11.15 -7.22,11.64 C-6.99,12.12 -6.75,12.61 -6.35,13.09 C-5.96,13.58 -5.91,14.06 -4.85,14.55 C-3.79,15.03 -1.45,16.00 -0.00,16.00 C1.45,16.00 3.12,15.03 3.87,14.55 C4.63,14.06 4.39,13.58 4.50,13.09 C4.62,12.61 4.59,12.12 4.59,11.64 C4.58,11.15 4.51,10.67 4.45,10.18 C4.39,9.70 4.31,9.21 4.24,8.73 C4.17,8.24 4.09,7.76 4.02,7.27 C3.95,6.79 3.88,6.30 3.82,5.82 C3.76,5.33 3.70,4.85 3.66,4.36 C3.61,3.88 3.57,3.39 3.54,2.91 C3.51,2.42 3.49,1.94 3.47,1.45 C3.46,0.97 3.45,0.48 3.45,0.00 C3.45,-0.48 3.46,-0.97 3.47,-1.45 C3.49,-1.94 3.51,-2.42 3.54,-2.91 C3.57,-3.39 3.61,-3.88 3.66,-4.36 C3.70,-4.85 3.76,-5.33 3.82,-5.82 C3.88,-6.30 3.95,-6.79 4.02,-7.27 C4.09,-7.76 4.17,-8.24 4.24,-8.73 C4.31,-9.21 4.39,-9.70 4.45,-10.18 C4.51,-10.67 4.58,-11.15 4.59,-11.64 C4.59,-12.12 4.62,-12.61 4.50,-13.09 C4.39,-13.58 4.63,-14.06 3.87,-14.55 C3.12,-15.03 1.45,-16.00 -0.00,-16.00 Z" transform="translate(475.6 580.2) rotate(14)" fill="#5a1a10" opacity="0.35" filter="url(#bl)"/><path d="M-0.00,-16.00 C-1.45,-16.00 -3.79,-15.03 -4.85,-14.55 C-5.91,-14.06 -5.96,-13.58 -6.35,-13.09 C-6.75,-12.61 -6.99,-12.12 -7.22,-11.64 C-7.46,-11.15 -7.62,-10.67 -7.78,-10.18 C-7.94,-9.70 -8.06,-9.21 -8.17,-8.73 C-8.28,-8.24 -8.37,-7.76 -8.46,-7.27 C-8.54,-6.79 -8.61,-6.30 -8.68,-5.82 C-8.74,-5.33 -8.79,-4.85 -8.84,-4.36 C-8.89,-3.88 -8.93,-3.39 -8.96,-2.91 C-8.99,-2.42 -9.01,-1.94 -9.03,-1.45 C-9.04,-0.97 -9.05,-0.48 -9.05,0.00 C-9.05,0.48 -9.04,0.97 -9.03,1.45 C-9.01,1.94 -8.99,2.42 -8.96,2.91 C-8.93,3.39 -8.89,3.88 -8.84,4.36 C-8.79,4.85 -8.74,5.33 -8.68,5.82 C-8.61,6.30 -8.54,6.79 -8.46,7.27 C-8.37,7.76 -8.28,8.24 -8.17,8.73 C-8.06,9.21 -7.94,9.70 -7.78,10.18 C-7.62,10.67 -7.46,11.15 -7.22,11.64 C-6.99,12.12 -6.75,12.61 -6.35,13.09 C-5.96,13.58 -5.91,14.06 -4.85,14.55 C-3.79,15.03 -1.45,16.00 -0.00,16.00 C1.45,16.00 3.12,15.03 3.87,14.55 C4.63,14.06 4.39,13.58 4.50,13.09 C4.62,12.61 4.59,12.12 4.59,11.64 C4.58,11.15 4.51,10.67 4.45,10.18 C4.39,9.70 4.31,9.21 4.24,8.73 C4.17,8.24 4.09,7.76 4.02,7.27 C3.95,6.79 3.88,6.30 3.82,5.82 C3.76,5.33 3.70,4.85 3.66,4.36 C3.61,3.88 3.57,3.39 3.54,2.91 C3.51,2.42 3.49,1.94 3.47,1.45 C3.46,0.97 3.45,0.48 3.45,0.00 C3.45,-0.48 3.46,-0.97 3.47,-1.45 C3.49,-1.94 3.51,-2.42 3.54,-2.91 C3.57,-3.39 3.61,-3.88 3.66,-4.36 C3.70,-4.85 3.76,-5.33 3.82,-5.82 C3.88,-6.30 3.95,-6.79 4.02,-7.27 C4.09,-7.76 4.17,-8.24 4.24,-8.73 C4.31,-9.21 4.39,-9.70 4.45,-10.18 C4.51,-10.67 4.58,-11.15 4.59,-11.64 C4.59,-12.12 4.62,-12.61 4.50,-13.09 C4.39,-13.58 4.63,-14.06 3.87,-14.55 C3.12,-15.03 1.45,-16.00 -0.00,-16.00 Z" transform="translate(474.1 579.2) rotate(14)" fill="url(#cMc)"/>
<ellipse cx="471.6" cy="670.2" rx="13.5" ry="9.0" transform="rotate(-20 471.6 670.2)" fill="url(#cD)" opacity="0.72"/>
<ellipse cx="461.3" cy="746.1" rx="11.0" ry="14.6" transform="rotate(40 461.3 746.1)" fill="#5a1a10" opacity="0.38" filter="url(#bl)"/><ellipse cx="458.8" cy="743.6" rx="11.0" ry="14.6" transform="rotate(40 458.8 743.6)" fill="url(#cD)"/>
<ellipse cx="489.1" cy="799.3" rx="10.4" ry="17.4" transform="rotate(-25 489.1 799.3)" fill="#5a1a10" opacity="0.38" filter="url(#bl)"/><ellipse cx="486.6" cy="797.8" rx="10.4" ry="17.4" transform="rotate(-25 486.6 797.8)" fill="url(#cM)"/>
<ellipse cx="474.7" cy="834.6" rx="11.4" ry="16.0" transform="rotate(-44 474.7 834.6)" fill="#5a1a10" opacity="0.38" filter="url(#bl)"/><ellipse cx="477.2" cy="832.6" rx="11.4" ry="16.0" transform="rotate(-44 477.2 832.6)" fill="url(#cB)"/>
</g>
<g id="v2">
<path d="M700.21,554.65 C700.62,556.94 702.21,564.19 702.67,568.40 C703.13,572.61 703.05,576.06 702.95,579.91 C702.85,583.76 702.77,586.62 702.09,591.49 C701.40,596.35 700.45,602.90 698.87,609.08 C697.28,615.27 694.02,623.34 692.58,628.62 C691.15,633.90 690.26,636.97 690.25,640.76 C690.24,644.56 691.27,648.19 692.52,651.40 C693.78,654.60 695.25,657.30 697.79,660.01 C700.33,662.71 704.13,665.55 707.76,667.62 C711.38,669.70 717.16,671.56 719.54,672.44 C721.92,673.32 721.63,672.82 722.05,672.90 L722.05,655.10 C721.97,655.18 723.35,655.18 721.56,655.56 C719.78,655.94 714.38,657.64 711.34,657.38 C708.30,657.12 705.31,655.46 703.31,653.99 C701.32,652.53 700.32,650.80 699.38,648.60 C698.43,646.41 697.59,643.84 697.65,640.84 C697.71,637.83 698.32,635.57 699.72,630.58 C701.11,625.60 704.42,617.26 706.03,610.92 C707.65,604.57 708.70,597.65 709.41,592.51 C710.13,587.38 710.25,584.24 710.35,580.09 C710.45,575.94 710.50,572.06 710.03,567.60 C709.55,563.15 707.92,555.73 707.49,553.35 Z" fill="#f2a298"/><circle cx="703.8" cy="554.0" r="3.7" fill="#f2a298"/>
<path d="M643.00,510.30 C645.24,511.05 650.93,515.48 652.80,518.00 C654.67,520.52 656.07,526.40 657.00,529.20 C657.93,532.00 658.21,536.01 659.80,539.00 C661.39,541.99 667.59,548.43 668.90,551.60 C670.21,554.77 669.69,560.19 669.60,562.80 C669.51,565.41 667.83,568.77 668.20,571.20 C668.57,573.63 672.03,578.01 672.40,581.00 C672.77,583.99 670.63,590.80 671.00,593.60 C671.37,596.40 674.45,599.95 675.20,602.00 C675.95,604.05 675.85,607.13 676.60,609.00 C677.35,610.87 680.43,613.95 680.80,616.00 C681.17,618.05 679.96,622.53 679.40,624.40 C678.84,626.27 677.72,628.93 676.60,630.00 C675.48,631.07 671.93,630.96 671.00,632.40 C670.07,633.84 669.60,638.19 669.60,640.80 C669.60,643.41 671.19,649.01 671.00,652.00 C670.81,654.99 669.32,660.59 668.20,663.20 C667.08,665.81 663.07,668.99 662.60,671.60 C662.13,674.21 664.51,679.81 664.70,682.80 C664.89,685.79 665.03,691.76 664.00,694.00 C662.97,696.24 658.21,697.36 657.00,699.60 C655.79,701.84 656.21,708.37 654.90,710.80 C653.59,713.23 648.79,715.93 647.20,717.80 C645.61,719.67 644.12,722.75 643.00,724.80 C641.88,726.85 640.11,732.08 638.80,733.20 C637.49,734.32 634.79,734.13 633.20,733.20 C631.61,732.27 627.93,728.44 626.90,726.20 C625.87,723.96 625.94,719.20 625.50,716.40 C625.06,713.60 623.69,708.19 623.60,705.20 C623.51,702.21 624.64,697.36 624.80,694.00 C624.96,690.64 624.64,682.99 624.80,680.00 C624.96,677.01 625.04,673.73 626.00,671.60 C626.96,669.47 629.73,665.95 632.00,664.00 C634.27,662.05 641.07,659.53 643.00,657.00 C644.93,654.47 646.17,648.87 646.50,645.00 C646.83,641.13 646.30,633.20 645.50,628.00 C644.70,622.80 641.57,611.33 640.50,606.00 C639.43,600.67 637.99,593.47 637.50,588.00 C637.01,582.53 637.80,570.20 636.80,565.00 C635.80,559.80 631.41,552.84 630.00,549.00 C628.59,545.16 626.80,539.77 626.20,536.20 C625.60,532.63 624.86,524.96 625.50,522.20 C626.14,519.44 629.60,516.81 631.00,515.50 C632.40,514.19 634.40,513.09 636.00,512.40 C637.60,511.71 640.76,509.55 643.00,510.30 Z" fill="#a51a24"/>
<ellipse cx="642.1" cy="543.9" rx="6.4" ry="8.6" transform="rotate(-51 642.1 543.9)" fill="url(#cD)" stroke="#7a101a" stroke-opacity="0.35" stroke-width="0.7"/>
<ellipse cx="654.3" cy="591.8" rx="4.3" ry="7.0" transform="rotate(1 654.3 591.8)" fill="url(#cD)" stroke="#7a101a" stroke-opacity="0.35" stroke-width="0.7"/>
<ellipse cx="647.9" cy="694.6" rx="4.6" ry="7.0" transform="rotate(147 647.9 694.6)" fill="url(#cK)" stroke="#7a101a" stroke-opacity="0.35" stroke-width="0.7"/>
<ellipse cx="656.6" cy="598.7" rx="7.2" ry="10.9" transform="rotate(126 656.6 598.7)" fill="url(#cB)" stroke="#7a101a" stroke-opacity="0.35" stroke-width="0.7"/>
<ellipse cx="631.9" cy="536.6" rx="5.9" ry="8.8" transform="rotate(38 631.9 536.6)" fill="url(#cB)" stroke="#7a101a" stroke-opacity="0.35" stroke-width="0.7"/>
<ellipse cx="662.5" cy="605.6" rx="6.0" ry="9.0" transform="rotate(10 662.5 605.6)" fill="url(#cD)" stroke="#7a101a" stroke-opacity="0.35" stroke-width="0.7"/>
<ellipse cx="649.5" cy="577.1" rx="6.0" ry="9.1" transform="rotate(204 649.5 577.1)" fill="url(#cD)" stroke="#7a101a" stroke-opacity="0.35" stroke-width="0.7"/>
<ellipse cx="665.3" cy="574.5" rx="7.1" ry="11.1" transform="rotate(-46 665.3 574.5)" fill="url(#cM)" stroke="#7a101a" stroke-opacity="0.35" stroke-width="0.7"/>
<ellipse cx="647.5" cy="679.1" rx="4.6" ry="7.2" transform="rotate(-1 647.5 679.1)" fill="url(#cK)" stroke="#7a101a" stroke-opacity="0.35" stroke-width="0.7"/>
<ellipse cx="663.4" cy="642.8" rx="5.7" ry="9.0" transform="rotate(175 663.4 642.8)" fill="url(#cD)" stroke="#7a101a" stroke-opacity="0.35" stroke-width="0.7"/>
<ellipse cx="650.7" cy="658.3" rx="4.7" ry="7.9" transform="rotate(204 650.7 658.3)" fill="url(#cK)" stroke="#7a101a" stroke-opacity="0.35" stroke-width="0.7"/>
<ellipse cx="646.0" cy="704.5" rx="5.6" ry="7.6" transform="rotate(-6 646.0 704.5)" fill="url(#cK)" stroke="#7a101a" stroke-opacity="0.35" stroke-width="0.7"/>
<ellipse cx="657.3" cy="568.9" rx="4.7" ry="7.3" transform="rotate(-10 657.3 568.9)" fill="url(#cB)" stroke="#7a101a" stroke-opacity="0.35" stroke-width="0.7"/>
<ellipse cx="653.1" cy="648.0" rx="6.6" ry="9.5" transform="rotate(126 653.1 648.0)" fill="url(#cK)" stroke="#7a101a" stroke-opacity="0.35" stroke-width="0.7"/>
<ellipse cx="646.0" cy="599.2" rx="5.5" ry="7.2" transform="rotate(196 646.0 599.2)" fill="url(#cB)" stroke="#7a101a" stroke-opacity="0.35" stroke-width="0.7"/>
<ellipse cx="635.5" cy="546.5" rx="5.9" ry="9.2" transform="rotate(126 635.5 546.5)" fill="url(#cD)" stroke="#7a101a" stroke-opacity="0.35" stroke-width="0.7"/>
<ellipse cx="644.4" cy="537.7" rx="6.6" ry="10.6" transform="rotate(239 644.4 537.7)" fill="url(#cK)" stroke="#7a101a" stroke-opacity="0.35" stroke-width="0.7"/>
<ellipse cx="650.3" cy="618.1" rx="4.8" ry="8.1" transform="rotate(132 650.3 618.1)" fill="url(#cK)" stroke="#7a101a" stroke-opacity="0.35" stroke-width="0.7"/>
<ellipse cx="643.2" cy="569.3" rx="6.1" ry="10.3" transform="rotate(139 643.2 569.3)" fill="url(#cB)" stroke="#7a101a" stroke-opacity="0.35" stroke-width="0.7"/>
<ellipse cx="653.8" cy="543.0" rx="6.2" ry="8.3" transform="rotate(-57 653.8 543.0)" fill="url(#cD)" stroke="#7a101a" stroke-opacity="0.35" stroke-width="0.7"/>
<ellipse cx="633.2" cy="682.4" rx="6.1" ry="8.8" transform="rotate(213 633.2 682.4)" fill="url(#cM)" stroke="#7a101a" stroke-opacity="0.35" stroke-width="0.7"/>
<ellipse cx="642.5" cy="560.0" rx="7.2" ry="9.1" transform="rotate(58 642.5 560.0)" fill="url(#cK)" stroke="#7a101a" stroke-opacity="0.35" stroke-width="0.7"/>
<ellipse cx="643.9" cy="516.8" rx="4.5" ry="7.1" transform="rotate(-26 643.9 516.8)" fill="url(#cD)" stroke="#7a101a" stroke-opacity="0.35" stroke-width="0.7"/>
<ellipse cx="638.4" cy="664.7" rx="6.6" ry="11.1" transform="rotate(174 638.4 664.7)" fill="url(#cK)" stroke="#7a101a" stroke-opacity="0.35" stroke-width="0.7"/>
<ellipse cx="671.7" cy="617.2" rx="6.2" ry="9.9" transform="rotate(36 671.7 617.2)" fill="url(#cK)" stroke="#7a101a" stroke-opacity="0.35" stroke-width="0.7"/>
<ellipse cx="642.6" cy="688.8" rx="6.5" ry="9.7" transform="rotate(-12 642.6 688.8)" fill="url(#cB)" stroke="#7a101a" stroke-opacity="0.35" stroke-width="0.7"/>
<ellipse cx="632.0" cy="694.5" rx="6.3" ry="10.3" transform="rotate(19 632.0 694.5)" fill="url(#cM)" stroke="#7a101a" stroke-opacity="0.35" stroke-width="0.7"/>
<ellipse cx="631.1" cy="713.1" rx="5.5" ry="9.1" transform="rotate(175 631.1 713.1)" fill="url(#cB)" stroke="#7a101a" stroke-opacity="0.35" stroke-width="0.7"/>
<ellipse cx="652.3" cy="628.8" rx="5.6" ry="9.3" transform="rotate(-58 652.3 628.8)" fill="url(#cD)" stroke="#7a101a" stroke-opacity="0.35" stroke-width="0.7"/>
<ellipse cx="648.8" cy="551.1" rx="4.4" ry="7.0" transform="rotate(216 648.8 551.1)" fill="url(#cD)" stroke="#7a101a" stroke-opacity="0.35" stroke-width="0.7"/>
<ellipse cx="665.1" cy="634.3" rx="5.0" ry="8.1" transform="rotate(182 665.1 634.3)" fill="url(#cK)" stroke="#7a101a" stroke-opacity="0.35" stroke-width="0.7"/>
<ellipse cx="655.4" cy="685.1" rx="4.5" ry="8.4" transform="rotate(187 655.4 685.1)" fill="url(#cM)" stroke="#7a101a" stroke-opacity="0.35" stroke-width="0.7"/>
<ellipse cx="667.8" cy="623.5" rx="6.7" ry="9.6" transform="rotate(31 667.8 623.5)" fill="url(#cK)" stroke="#7a101a" stroke-opacity="0.35" stroke-width="0.7"/>
<ellipse cx="658.6" cy="623.0" rx="5.4" ry="9.2" transform="rotate(203 658.6 623.0)" fill="url(#cK)" stroke="#7a101a" stroke-opacity="0.35" stroke-width="0.7"/>
<ellipse cx="632.4" cy="669.9" rx="6.0" ry="8.6" transform="rotate(137 632.4 669.9)" fill="url(#cD)" stroke="#7a101a" stroke-opacity="0.35" stroke-width="0.7"/>
<ellipse cx="636.2" cy="722.6" rx="5.7" ry="8.8" transform="rotate(178 636.2 722.6)" fill="url(#cB)" stroke="#7a101a" stroke-opacity="0.35" stroke-width="0.7"/>
<ellipse cx="655.3" cy="608.5" rx="5.0" ry="7.3" transform="rotate(-20 655.3 608.5)" fill="url(#cD)" stroke="#7a101a" stroke-opacity="0.35" stroke-width="0.7"/>
<ellipse cx="656.2" cy="666.4" rx="5.1" ry="8.0" transform="rotate(127 656.2 666.4)" fill="url(#cB)" stroke="#7a101a" stroke-opacity="0.35" stroke-width="0.7"/>
<ellipse cx="628.4" cy="701.2" rx="5.3" ry="8.1" transform="rotate(44 628.4 701.2)" fill="url(#cD)" stroke="#7a101a" stroke-opacity="0.35" stroke-width="0.7"/>
<ellipse cx="649.6" cy="585.9" rx="6.3" ry="9.3" transform="rotate(231 649.6 585.9)" fill="url(#cM)" stroke="#7a101a" stroke-opacity="0.35" stroke-width="0.7"/>
<ellipse cx="641.4" cy="578.3" rx="6.6" ry="9.0" transform="rotate(155 641.4 578.3)" fill="url(#cK)" stroke="#7a101a" stroke-opacity="0.35" stroke-width="0.7"/>
<ellipse cx="670.4" cy="606.6" rx="6.1" ry="8.5" transform="rotate(220 670.4 606.6)" fill="url(#cM)" stroke="#7a101a" stroke-opacity="0.35" stroke-width="0.7"/>
<ellipse cx="664.0" cy="652.1" rx="5.8" ry="8.5" transform="rotate(-18 664.0 652.1)" fill="url(#cK)" stroke="#7a101a" stroke-opacity="0.35" stroke-width="0.7"/>
<ellipse cx="636.8" cy="517.2" rx="5.3" ry="8.2" transform="rotate(163 636.8 517.2)" fill="url(#cB)" stroke="#7a101a" stroke-opacity="0.35" stroke-width="0.7"/>
<ellipse cx="665.3" cy="556.0" rx="7.1" ry="8.8" transform="rotate(57 665.3 556.0)" fill="url(#cK)" stroke="#7a101a" stroke-opacity="0.35" stroke-width="0.7"/>
<ellipse cx="641.7" cy="697.6" rx="5.2" ry="8.0" transform="rotate(30 641.7 697.6)" fill="url(#cD)" stroke="#7a101a" stroke-opacity="0.35" stroke-width="0.7"/>
<ellipse cx="640.6" cy="675.0" rx="7.0" ry="10.5" transform="rotate(-29 640.6 675.0)" fill="url(#cD)" stroke="#7a101a" stroke-opacity="0.35" stroke-width="0.7"/>
<ellipse cx="652.0" cy="559.3" rx="6.9" ry="10.8" transform="rotate(60 652.0 559.3)" fill="url(#cK)" stroke="#7a101a" stroke-opacity="0.35" stroke-width="0.7"/>
<ellipse cx="643.2" cy="530.6" rx="5.9" ry="7.7" transform="rotate(-29 643.2 530.6)" fill="url(#cK)" stroke="#7a101a" stroke-opacity="0.35" stroke-width="0.7"/>
<ellipse cx="646.5" cy="609.7" rx="7.3" ry="9.6" transform="rotate(42 646.5 609.7)" fill="url(#cK)" stroke="#7a101a" stroke-opacity="0.35" stroke-width="0.7"/>
<ellipse cx="630.0" cy="526.0" rx="5.2" ry="8.6" transform="rotate(190 630.0 526.0)" fill="url(#cK)" stroke="#7a101a" stroke-opacity="0.35" stroke-width="0.7"/>
<ellipse cx="658.3" cy="583.4" rx="5.4" ry="8.2" transform="rotate(-17 658.3 583.4)" fill="url(#cD)" stroke="#7a101a" stroke-opacity="0.35" stroke-width="0.7"/>
<ellipse cx="637.7" cy="524.7" rx="4.6" ry="7.1" transform="rotate(6 637.7 524.7)" fill="url(#cK)" stroke="#7a101a" stroke-opacity="0.35" stroke-width="0.7"/>
<ellipse cx="657.9" cy="632.9" rx="5.7" ry="9.9" transform="rotate(157 657.9 632.9)" fill="url(#cB)" stroke="#7a101a" stroke-opacity="0.35" stroke-width="0.7"/>
<ellipse cx="650.7" cy="534.2" rx="4.6" ry="8.2" transform="rotate(-8 650.7 534.2)" fill="url(#cD)" stroke="#7a101a" stroke-opacity="0.35" stroke-width="0.7"/>
<ellipse cx="634.7" cy="729.1" rx="5.9" ry="8.4" transform="rotate(55 634.7 729.1)" fill="url(#cB)" stroke="#7a101a" stroke-opacity="0.35" stroke-width="0.7"/>
<ellipse cx="659.3" cy="616.2" rx="5.3" ry="8.2" transform="rotate(52 659.3 616.2)" fill="url(#cK)" stroke="#7a101a" stroke-opacity="0.35" stroke-width="0.7"/>
<ellipse cx="637.8" cy="711.7" rx="4.7" ry="7.6" transform="rotate(184 637.8 711.7)" fill="url(#cK)" stroke="#7a101a" stroke-opacity="0.35" stroke-width="0.7"/>
<ellipse cx="666.3" cy="583.2" rx="7.3" ry="9.7" transform="rotate(159 666.3 583.2)" fill="url(#cB)" stroke="#7a101a" stroke-opacity="0.35" stroke-width="0.7"/>
<ellipse cx="648.6" cy="671.8" rx="5.9" ry="8.6" transform="rotate(157 648.6 671.8)" fill="url(#cK)" stroke="#7a101a" stroke-opacity="0.35" stroke-width="0.7"/>
<ellipse cx="636" cy="671.6" rx="12" ry="8" transform="rotate(-25 636 671.6)" fill="#8e1622"/>
<ellipse cx="659" cy="687" rx="6" ry="12" transform="rotate(-5 659 687)" fill="#dc2329"/>
<ellipse cx="647" cy="700" rx="7.5" ry="13" transform="rotate(20 647 700)" fill="#d01f27"/>
<ellipse cx="639.5" cy="706.6" rx="10" ry="12.2" transform="rotate(25 639.5 706.6)" fill="#901724"/>
<ellipse cx="634.6" cy="722" rx="8.6" ry="11.2" transform="rotate(5 634.6 722)" fill="#8a1522"/>
<ellipse cx="643.5" cy="513" rx="8" ry="5" transform="rotate(10 643.5 513)" fill="#df262a"/>
<ellipse cx="633" cy="522" rx="8.5" ry="5.5" transform="rotate(5 633 522)" fill="#c01c24"/>
<path d="M633.02,550.74 C632.51,552.54 630.65,556.51 629.93,561.56 C629.21,566.62 628.55,574.23 628.70,581.07 C628.86,587.91 629.66,596.61 630.86,602.61 C632.06,608.61 634.28,612.69 635.89,617.07 C637.50,621.45 639.46,625.37 640.53,628.89 C641.60,632.41 642.10,635.40 642.31,638.22 C642.52,641.03 642.43,643.48 641.79,645.77 C641.15,648.05 639.92,650.46 638.46,651.94 C637.00,653.43 635.23,654.59 633.03,654.67 C630.82,654.75 626.29,652.92 625.22,652.41 C624.15,651.90 626.37,651.74 626.60,651.60 L626.60,672.90 C627.33,672.76 628.92,673.52 630.98,672.09 C633.04,670.66 636.71,667.00 638.97,664.33 C641.24,661.66 643.07,658.91 644.54,656.06 C646.01,653.21 647.15,650.28 647.81,647.23 C648.47,644.19 648.72,641.14 648.49,637.78 C648.27,634.43 647.60,630.92 646.47,627.11 C645.34,623.30 643.30,619.21 641.71,614.93 C640.12,610.64 638.07,607.06 636.94,601.39 C635.80,595.73 635.04,587.42 634.90,580.93 C634.75,574.44 635.39,567.18 636.07,562.44 C636.75,557.69 638.49,554.12 638.98,552.46 Z" fill="#f2a298"/><circle cx="636.0" cy="551.6" r="3.1" fill="#f2a298"/>
<path d="M675.60,518.07 C675.67,520.74 675.88,529.06 676.00,534.08 C676.13,539.10 676.08,542.62 676.35,548.17 C676.63,553.72 676.89,560.66 677.67,567.38 C678.45,574.10 680.01,581.50 681.04,588.49 C682.06,595.48 683.22,603.41 683.82,609.32 C684.41,615.22 684.68,619.22 684.60,623.92 C684.52,628.63 683.98,632.98 683.33,637.54 C682.69,642.10 681.85,646.67 680.74,651.28 C679.62,655.90 677.92,660.54 676.65,665.24 C675.39,669.95 673.96,674.75 673.14,679.52 C672.33,684.28 672.05,689.08 671.76,693.82 C671.47,698.57 671.38,703.29 671.40,708.00 C671.42,712.71 671.68,717.40 671.85,722.08 C672.02,726.75 672.21,731.57 672.40,736.06 C672.59,740.56 672.73,744.89 673.00,749.05 C673.27,753.21 673.83,759.04 674.00,761.04 L677.00,760.96 C677.07,758.96 677.33,753.12 677.40,748.95 C677.47,744.78 677.44,740.44 677.40,735.94 C677.36,731.43 677.25,726.58 677.15,721.92 C677.05,717.27 676.78,712.62 676.80,708.00 C676.82,703.38 676.93,698.76 677.24,694.18 C677.55,689.59 677.84,685.05 678.66,680.48 C679.48,675.91 680.85,671.38 682.15,666.76 C683.45,662.13 685.24,657.43 686.46,652.72 C687.68,648.00 688.71,643.23 689.47,638.46 C690.22,633.69 690.85,629.04 691.00,624.08 C691.15,619.11 690.96,614.78 690.38,608.68 C689.81,602.59 688.64,594.52 687.56,587.51 C686.49,580.50 684.78,573.23 683.93,566.62 C683.07,560.00 682.77,553.28 682.45,547.83 C682.12,542.38 682.14,538.90 682.00,533.92 C681.86,528.94 681.67,520.59 681.60,517.93 Z" fill="url(#ag2)"/><path d="M677.7,491.4 L689.7,520.8 Q683.7,519.6 681.6,518.8 L675.6,518.8 Q671.7,519.6 665.7,520.8 Z" fill="#4b6a3f"/>
<path d="M-0.00,-15.25 C-1.00,-15.25 -2.73,-14.33 -3.52,-13.86 C-4.31,-13.40 -4.40,-12.94 -4.73,-12.48 C-5.05,-12.02 -5.26,-11.55 -5.48,-11.09 C-5.69,-10.63 -5.84,-10.17 -5.99,-9.70 C-6.14,-9.24 -6.26,-8.78 -6.38,-8.32 C-6.49,-7.86 -6.58,-7.39 -6.67,-6.93 C-6.76,-6.47 -6.83,-6.01 -6.90,-5.55 C-6.97,-5.08 -7.03,-4.62 -7.08,-4.16 C-7.13,-3.70 -7.17,-3.23 -7.20,-2.77 C-7.23,-2.31 -7.26,-1.85 -7.28,-1.39 C-7.29,-0.92 -7.30,-0.46 -7.30,0.00 C-7.30,0.46 -7.29,0.92 -7.28,1.39 C-7.26,1.85 -7.23,2.31 -7.20,2.77 C-7.17,3.23 -7.13,3.70 -7.08,4.16 C-7.03,4.62 -6.97,5.08 -6.90,5.55 C-6.83,6.01 -6.76,6.47 -6.67,6.93 C-6.58,7.39 -6.49,7.86 -6.38,8.32 C-6.26,8.78 -6.14,9.24 -5.99,9.70 C-5.84,10.17 -5.69,10.63 -5.48,11.09 C-5.26,11.55 -5.05,12.02 -4.73,12.48 C-4.40,12.94 -4.31,13.40 -3.52,13.86 C-2.73,14.33 -1.00,15.25 -0.00,15.25 C1.00,15.25 2.02,14.33 2.48,13.86 C2.94,13.40 2.72,12.94 2.74,12.48 C2.77,12.02 2.70,11.55 2.65,11.09 C2.60,10.63 2.50,10.17 2.42,9.70 C2.34,9.24 2.25,8.78 2.16,8.32 C2.08,7.86 1.99,7.39 1.91,6.93 C1.83,6.47 1.76,6.01 1.69,5.55 C1.63,5.08 1.57,4.62 1.52,4.16 C1.47,3.70 1.43,3.23 1.40,2.77 C1.37,2.31 1.34,1.85 1.32,1.39 C1.31,0.92 1.30,0.46 1.30,0.00 C1.30,-0.46 1.31,-0.92 1.32,-1.39 C1.34,-1.85 1.37,-2.31 1.40,-2.77 C1.43,-3.23 1.47,-3.70 1.52,-4.16 C1.57,-4.62 1.63,-5.08 1.69,-5.55 C1.76,-6.01 1.83,-6.47 1.91,-6.93 C1.99,-7.39 2.08,-7.86 2.16,-8.32 C2.25,-8.78 2.34,-9.24 2.42,-9.70 C2.50,-10.17 2.60,-10.63 2.65,-11.09 C2.70,-11.55 2.77,-12.02 2.74,-12.48 C2.72,-12.94 2.94,-13.40 2.48,-13.86 C2.02,-14.33 1.00,-15.25 -0.00,-15.25 Z" transform="translate(663.3 419.1) rotate(70)" fill="#5a1a10" opacity="0.35" filter="url(#bl)"/><path d="M-0.00,-15.25 C-1.00,-15.25 -2.73,-14.33 -3.52,-13.86 C-4.31,-13.40 -4.40,-12.94 -4.73,-12.48 C-5.05,-12.02 -5.26,-11.55 -5.48,-11.09 C-5.69,-10.63 -5.84,-10.17 -5.99,-9.70 C-6.14,-9.24 -6.26,-8.78 -6.38,-8.32 C-6.49,-7.86 -6.58,-7.39 -6.67,-6.93 C-6.76,-6.47 -6.83,-6.01 -6.90,-5.55 C-6.97,-5.08 -7.03,-4.62 -7.08,-4.16 C-7.13,-3.70 -7.17,-3.23 -7.20,-2.77 C-7.23,-2.31 -7.26,-1.85 -7.28,-1.39 C-7.29,-0.92 -7.30,-0.46 -7.30,0.00 C-7.30,0.46 -7.29,0.92 -7.28,1.39 C-7.26,1.85 -7.23,2.31 -7.20,2.77 C-7.17,3.23 -7.13,3.70 -7.08,4.16 C-7.03,4.62 -6.97,5.08 -6.90,5.55 C-6.83,6.01 -6.76,6.47 -6.67,6.93 C-6.58,7.39 -6.49,7.86 -6.38,8.32 C-6.26,8.78 -6.14,9.24 -5.99,9.70 C-5.84,10.17 -5.69,10.63 -5.48,11.09 C-5.26,11.55 -5.05,12.02 -4.73,12.48 C-4.40,12.94 -4.31,13.40 -3.52,13.86 C-2.73,14.33 -1.00,15.25 -0.00,15.25 C1.00,15.25 2.02,14.33 2.48,13.86 C2.94,13.40 2.72,12.94 2.74,12.48 C2.77,12.02 2.70,11.55 2.65,11.09 C2.60,10.63 2.50,10.17 2.42,9.70 C2.34,9.24 2.25,8.78 2.16,8.32 C2.08,7.86 1.99,7.39 1.91,6.93 C1.83,6.47 1.76,6.01 1.69,5.55 C1.63,5.08 1.57,4.62 1.52,4.16 C1.47,3.70 1.43,3.23 1.40,2.77 C1.37,2.31 1.34,1.85 1.32,1.39 C1.31,0.92 1.30,0.46 1.30,0.00 C1.30,-0.46 1.31,-0.92 1.32,-1.39 C1.34,-1.85 1.37,-2.31 1.40,-2.77 C1.43,-3.23 1.47,-3.70 1.52,-4.16 C1.57,-4.62 1.63,-5.08 1.69,-5.55 C1.76,-6.01 1.83,-6.47 1.91,-6.93 C1.99,-7.39 2.08,-7.86 2.16,-8.32 C2.25,-8.78 2.34,-9.24 2.42,-9.70 C2.50,-10.17 2.60,-10.63 2.65,-11.09 C2.70,-11.55 2.77,-12.02 2.74,-12.48 C2.72,-12.94 2.94,-13.40 2.48,-13.86 C2.02,-14.33 1.00,-15.25 -0.00,-15.25 Z" transform="translate(662.3 417.6) rotate(70)" fill="url(#cBc)"/>
<path d="M-0.00,-11.50 C-0.86,-11.50 -2.28,-10.80 -2.93,-10.45 C-3.57,-10.11 -3.62,-9.76 -3.88,-9.41 C-4.13,-9.06 -4.28,-8.71 -4.44,-8.36 C-4.59,-8.02 -4.70,-7.67 -4.81,-7.32 C-4.92,-6.97 -5.00,-6.62 -5.08,-6.27 C-5.16,-5.92 -5.22,-5.58 -5.28,-5.23 C-5.34,-4.88 -5.39,-4.53 -5.43,-4.18 C-5.48,-3.83 -5.52,-3.48 -5.55,-3.14 C-5.58,-2.79 -5.61,-2.44 -5.63,-2.09 C-5.66,-1.74 -5.67,-1.39 -5.68,-1.05 C-5.69,-0.70 -5.70,-0.35 -5.70,0.00 C-5.70,0.35 -5.69,0.70 -5.68,1.05 C-5.67,1.39 -5.66,1.74 -5.63,2.09 C-5.61,2.44 -5.58,2.79 -5.55,3.14 C-5.52,3.48 -5.48,3.83 -5.43,4.18 C-5.39,4.53 -5.34,4.88 -5.28,5.23 C-5.22,5.58 -5.16,5.92 -5.08,6.27 C-5.00,6.62 -4.92,6.97 -4.81,7.32 C-4.70,7.67 -4.59,8.02 -4.44,8.36 C-4.28,8.71 -4.13,9.06 -3.88,9.41 C-3.62,9.76 -3.57,10.11 -2.93,10.45 C-2.28,10.80 -0.86,11.50 -0.00,11.50 C0.86,11.50 1.81,10.80 2.23,10.45 C2.66,10.11 2.50,9.76 2.55,9.41 C2.61,9.06 2.57,8.71 2.55,8.36 C2.53,8.02 2.48,7.67 2.43,7.32 C2.38,6.97 2.32,6.62 2.27,6.27 C2.21,5.92 2.16,5.58 2.11,5.23 C2.05,4.88 2.01,4.53 1.96,4.18 C1.92,3.83 1.88,3.48 1.85,3.14 C1.82,2.79 1.79,2.44 1.77,2.09 C1.74,1.74 1.73,1.39 1.72,1.05 C1.71,0.70 1.70,0.35 1.70,0.00 C1.70,-0.35 1.71,-0.70 1.72,-1.05 C1.73,-1.39 1.74,-1.74 1.77,-2.09 C1.79,-2.44 1.82,-2.79 1.85,-3.14 C1.88,-3.48 1.92,-3.83 1.96,-4.18 C2.01,-4.53 2.05,-4.88 2.11,-5.23 C2.16,-5.58 2.21,-5.92 2.27,-6.27 C2.32,-6.62 2.38,-6.97 2.43,-7.32 C2.48,-7.67 2.53,-8.02 2.55,-8.36 C2.57,-8.71 2.61,-9.06 2.55,-9.41 C2.50,-9.76 2.66,-10.11 2.23,-10.45 C1.81,-10.80 0.86,-11.50 -0.00,-11.50 Z" transform="translate(691.4 455.0) rotate(-28)" fill="#5a1a10" opacity="0.35" filter="url(#bl)"/><path d="M-0.00,-11.50 C-0.86,-11.50 -2.28,-10.80 -2.93,-10.45 C-3.57,-10.11 -3.62,-9.76 -3.88,-9.41 C-4.13,-9.06 -4.28,-8.71 -4.44,-8.36 C-4.59,-8.02 -4.70,-7.67 -4.81,-7.32 C-4.92,-6.97 -5.00,-6.62 -5.08,-6.27 C-5.16,-5.92 -5.22,-5.58 -5.28,-5.23 C-5.34,-4.88 -5.39,-4.53 -5.43,-4.18 C-5.48,-3.83 -5.52,-3.48 -5.55,-3.14 C-5.58,-2.79 -5.61,-2.44 -5.63,-2.09 C-5.66,-1.74 -5.67,-1.39 -5.68,-1.05 C-5.69,-0.70 -5.70,-0.35 -5.70,0.00 C-5.70,0.35 -5.69,0.70 -5.68,1.05 C-5.67,1.39 -5.66,1.74 -5.63,2.09 C-5.61,2.44 -5.58,2.79 -5.55,3.14 C-5.52,3.48 -5.48,3.83 -5.43,4.18 C-5.39,4.53 -5.34,4.88 -5.28,5.23 C-5.22,5.58 -5.16,5.92 -5.08,6.27 C-5.00,6.62 -4.92,6.97 -4.81,7.32 C-4.70,7.67 -4.59,8.02 -4.44,8.36 C-4.28,8.71 -4.13,9.06 -3.88,9.41 C-3.62,9.76 -3.57,10.11 -2.93,10.45 C-2.28,10.80 -0.86,11.50 -0.00,11.50 C0.86,11.50 1.81,10.80 2.23,10.45 C2.66,10.11 2.50,9.76 2.55,9.41 C2.61,9.06 2.57,8.71 2.55,8.36 C2.53,8.02 2.48,7.67 2.43,7.32 C2.38,6.97 2.32,6.62 2.27,6.27 C2.21,5.92 2.16,5.58 2.11,5.23 C2.05,4.88 2.01,4.53 1.96,4.18 C1.92,3.83 1.88,3.48 1.85,3.14 C1.82,2.79 1.79,2.44 1.77,2.09 C1.74,1.74 1.73,1.39 1.72,1.05 C1.71,0.70 1.70,0.35 1.70,0.00 C1.70,-0.35 1.71,-0.70 1.72,-1.05 C1.73,-1.39 1.74,-1.74 1.77,-2.09 C1.79,-2.44 1.82,-2.79 1.85,-3.14 C1.88,-3.48 1.92,-3.83 1.96,-4.18 C2.01,-4.53 2.05,-4.88 2.11,-5.23 C2.16,-5.58 2.21,-5.92 2.27,-6.27 C2.32,-6.62 2.38,-6.97 2.43,-7.32 C2.48,-7.67 2.53,-8.02 2.55,-8.36 C2.57,-8.71 2.61,-9.06 2.55,-9.41 C2.50,-9.76 2.66,-10.11 2.23,-10.45 C1.81,-10.80 0.86,-11.50 -0.00,-11.50 Z" transform="translate(690.4 454.0) rotate(-28)" fill="url(#cBc)"/>
<ellipse cx="657.8" cy="476.4" rx="7.6" ry="10.8" transform="rotate(-30 657.8 476.4)" fill="#5a1a10" opacity="0.38" filter="url(#bl)"/><ellipse cx="655.8" cy="475.4" rx="7.6" ry="10.8" transform="rotate(-30 655.8 475.4)" fill="url(#cM)"/>
<ellipse cx="702.1" cy="511.2" rx="7.2" ry="8.8" transform="rotate(30 702.1 511.2)" fill="#5a1a10" opacity="0.38" filter="url(#bl)"/><ellipse cx="700.6" cy="510.2" rx="7.2" ry="8.8" transform="rotate(30 700.6 510.2)" fill="url(#cD)"/>
<path d="M-0.00,-15.00 C-1.05,-15.00 -2.87,-14.09 -3.70,-13.64 C-4.52,-13.18 -4.62,-12.73 -4.97,-12.27 C-5.31,-11.82 -5.53,-11.36 -5.76,-10.91 C-5.98,-10.45 -6.15,-10.00 -6.31,-9.55 C-6.47,-9.09 -6.60,-8.64 -6.72,-8.18 C-6.84,-7.73 -6.94,-7.27 -7.03,-6.82 C-7.12,-6.36 -7.20,-5.91 -7.27,-5.45 C-7.35,-5.00 -7.41,-4.55 -7.46,-4.09 C-7.51,-3.64 -7.56,-3.18 -7.59,-2.73 C-7.63,-2.27 -7.66,-1.82 -7.67,-1.36 C-7.69,-0.91 -7.70,-0.45 -7.70,0.00 C-7.70,0.45 -7.69,0.91 -7.67,1.36 C-7.66,1.82 -7.63,2.27 -7.59,2.73 C-7.56,3.18 -7.51,3.64 -7.46,4.09 C-7.41,4.55 -7.35,5.00 -7.27,5.45 C-7.20,5.91 -7.12,6.36 -7.03,6.82 C-6.94,7.27 -6.84,7.73 -6.72,8.18 C-6.60,8.64 -6.47,9.09 -6.31,9.55 C-6.15,10.00 -5.98,10.45 -5.76,10.91 C-5.53,11.36 -5.31,11.82 -4.97,12.27 C-4.62,12.73 -4.52,13.18 -3.70,13.64 C-2.87,14.09 -1.05,15.00 -0.00,15.00 C1.05,15.00 2.11,14.09 2.58,13.64 C3.06,13.18 2.82,12.73 2.85,12.27 C2.88,11.82 2.80,11.36 2.74,10.91 C2.68,10.45 2.59,10.00 2.50,9.55 C2.41,9.09 2.31,8.64 2.22,8.18 C2.13,7.73 2.04,7.27 1.95,6.82 C1.87,6.36 1.79,5.91 1.72,5.45 C1.65,5.00 1.59,4.55 1.54,4.09 C1.49,3.64 1.44,3.18 1.41,2.73 C1.37,2.27 1.34,1.82 1.33,1.36 C1.31,0.91 1.30,0.45 1.30,0.00 C1.30,-0.45 1.31,-0.91 1.33,-1.36 C1.34,-1.82 1.37,-2.27 1.41,-2.73 C1.44,-3.18 1.49,-3.64 1.54,-4.09 C1.59,-4.55 1.65,-5.00 1.72,-5.45 C1.79,-5.91 1.87,-6.36 1.95,-6.82 C2.04,-7.27 2.13,-7.73 2.22,-8.18 C2.31,-8.64 2.41,-9.09 2.50,-9.55 C2.59,-10.00 2.68,-10.45 2.74,-10.91 C2.80,-11.36 2.88,-11.82 2.85,-12.27 C2.82,-12.73 3.06,-13.18 2.58,-13.64 C2.11,-14.09 1.05,-15.00 -0.00,-15.00 Z" transform="translate(700.9 684.5) rotate(-17)" fill="#5a1a10" opacity="0.35" filter="url(#bl)"/><path d="M-0.00,-15.00 C-1.05,-15.00 -2.87,-14.09 -3.70,-13.64 C-4.52,-13.18 -4.62,-12.73 -4.97,-12.27 C-5.31,-11.82 -5.53,-11.36 -5.76,-10.91 C-5.98,-10.45 -6.15,-10.00 -6.31,-9.55 C-6.47,-9.09 -6.60,-8.64 -6.72,-8.18 C-6.84,-7.73 -6.94,-7.27 -7.03,-6.82 C-7.12,-6.36 -7.20,-5.91 -7.27,-5.45 C-7.35,-5.00 -7.41,-4.55 -7.46,-4.09 C-7.51,-3.64 -7.56,-3.18 -7.59,-2.73 C-7.63,-2.27 -7.66,-1.82 -7.67,-1.36 C-7.69,-0.91 -7.70,-0.45 -7.70,0.00 C-7.70,0.45 -7.69,0.91 -7.67,1.36 C-7.66,1.82 -7.63,2.27 -7.59,2.73 C-7.56,3.18 -7.51,3.64 -7.46,4.09 C-7.41,4.55 -7.35,5.00 -7.27,5.45 C-7.20,5.91 -7.12,6.36 -7.03,6.82 C-6.94,7.27 -6.84,7.73 -6.72,8.18 C-6.60,8.64 -6.47,9.09 -6.31,9.55 C-6.15,10.00 -5.98,10.45 -5.76,10.91 C-5.53,11.36 -5.31,11.82 -4.97,12.27 C-4.62,12.73 -4.52,13.18 -3.70,13.64 C-2.87,14.09 -1.05,15.00 -0.00,15.00 C1.05,15.00 2.11,14.09 2.58,13.64 C3.06,13.18 2.82,12.73 2.85,12.27 C2.88,11.82 2.80,11.36 2.74,10.91 C2.68,10.45 2.59,10.00 2.50,9.55 C2.41,9.09 2.31,8.64 2.22,8.18 C2.13,7.73 2.04,7.27 1.95,6.82 C1.87,6.36 1.79,5.91 1.72,5.45 C1.65,5.00 1.59,4.55 1.54,4.09 C1.49,3.64 1.44,3.18 1.41,2.73 C1.37,2.27 1.34,1.82 1.33,1.36 C1.31,0.91 1.30,0.45 1.30,0.00 C1.30,-0.45 1.31,-0.91 1.33,-1.36 C1.34,-1.82 1.37,-2.27 1.41,-2.73 C1.44,-3.18 1.49,-3.64 1.54,-4.09 C1.59,-4.55 1.65,-5.00 1.72,-5.45 C1.79,-5.91 1.87,-6.36 1.95,-6.82 C2.04,-7.27 2.13,-7.73 2.22,-8.18 C2.31,-8.64 2.41,-9.09 2.50,-9.55 C2.59,-10.00 2.68,-10.45 2.74,-10.91 C2.80,-11.36 2.88,-11.82 2.85,-12.27 C2.82,-12.73 3.06,-13.18 2.58,-13.64 C2.11,-14.09 1.05,-15.00 -0.00,-15.00 Z" transform="translate(699.4 683.5) rotate(-17)" fill="url(#cBc)"/>
<ellipse cx="699.2" cy="749.5" rx="9.2" ry="14.4" transform="rotate(-26 699.2 749.5)" fill="#5a1a10" opacity="0.38" filter="url(#bl)"/><ellipse cx="697.2" cy="748.0" rx="9.2" ry="14.4" transform="rotate(-26 697.2 748.0)" fill="url(#cM)"/>
<ellipse cx="653.9" cy="776.1" rx="10.4" ry="12.6" transform="rotate(24 653.9 776.1)" fill="#5a1a10" opacity="0.38" filter="url(#bl)"/><ellipse cx="651.4" cy="773.6" rx="10.4" ry="12.6" transform="rotate(24 651.4 773.6)" fill="url(#cD)"/>
<ellipse cx="707.9" cy="850.1" rx="8.8" ry="14.6" transform="rotate(20 707.9 850.1)" fill="#5a1a10" opacity="0.38" filter="url(#bl)"/><ellipse cx="709.9" cy="848.6" rx="8.8" ry="14.6" transform="rotate(20 709.9 848.6)" fill="url(#cB)"/>
</g>
<g id="v3">
<path d="M906.26,554.65 C906.67,556.94 908.26,564.19 908.72,568.40 C909.18,572.61 909.10,576.06 909.00,579.91 C908.90,583.76 908.82,586.62 908.14,591.49 C907.45,596.35 906.50,602.90 904.92,609.08 C903.33,615.27 900.07,623.34 898.63,628.62 C897.20,633.90 896.31,636.97 896.30,640.76 C896.29,644.56 897.32,648.19 898.57,651.40 C899.83,654.60 901.30,657.30 903.84,660.01 C906.38,662.71 910.18,665.55 913.81,667.62 C917.43,669.70 923.21,671.56 925.59,672.44 C927.97,673.32 927.68,672.82 928.10,672.90 L928.10,655.10 C928.02,655.18 929.40,655.18 927.61,655.56 C925.83,655.94 920.43,657.64 917.39,657.38 C914.35,657.12 911.36,655.46 909.36,653.99 C907.37,652.53 906.37,650.80 905.43,648.60 C904.48,646.41 903.64,643.84 903.70,640.84 C903.76,637.83 904.37,635.57 905.77,630.58 C907.16,625.60 910.47,617.26 912.08,610.92 C913.70,604.57 914.75,597.65 915.46,592.51 C916.18,587.38 916.30,584.24 916.40,580.09 C916.50,575.94 916.55,572.06 916.08,567.60 C915.60,563.15 913.97,555.73 913.54,553.35 Z" fill="#f2a298"/><circle cx="909.9" cy="554.0" r="3.7" fill="#f2a298"/>
<path d="M841.60,518.00 C844.27,517.67 850.48,520.17 852.00,521.50 C853.52,522.83 853.45,526.07 853.00,528.00 C852.55,529.93 849.28,533.63 848.60,536.00 C847.92,538.37 847.71,543.19 847.90,545.80 C848.09,548.41 848.79,553.36 850.00,555.60 C851.21,557.84 855.51,560.73 857.00,562.60 C858.49,564.47 859.52,567.73 861.20,569.60 C862.88,571.47 868.29,574.36 869.60,576.60 C870.91,578.84 870.07,583.79 871.00,586.40 C871.93,589.01 875.29,593.59 876.60,596.20 C877.91,598.81 879.39,603.89 880.80,606.00 C882.21,608.11 886.29,610.40 887.20,612.00 C888.11,613.60 887.89,616.53 887.60,618.00 C887.31,619.47 886.28,621.29 885.00,623.00 C883.72,624.71 878.19,628.64 878.00,630.80 C877.81,632.96 882.83,636.40 883.60,639.20 C884.37,642.00 884.68,649.09 883.80,651.80 C882.92,654.51 878.71,656.70 877.00,659.50 C875.29,662.30 871.80,668.79 871.00,672.80 C870.20,676.81 871.93,686.24 871.00,689.60 C870.07,692.96 865.49,695.39 864.00,698.00 C862.51,700.61 861.29,706.59 859.80,709.20 C858.31,711.81 854.29,715.36 852.80,717.60 C851.31,719.84 849.91,723.95 848.60,726.00 C847.29,728.05 844.68,732.44 843.00,733.00 C841.32,733.56 837.40,731.88 836.00,730.20 C834.60,728.52 833.34,723.95 832.50,720.40 C831.66,716.85 829.85,707.71 829.70,703.60 C829.55,699.49 831.17,693.71 831.40,689.60 C831.63,685.49 830.52,676.21 831.40,672.80 C832.28,669.39 835.65,666.11 838.00,664.00 C840.35,661.89 847.05,659.53 849.00,657.00 C850.95,654.47 852.25,648.87 852.60,645.00 C852.95,641.13 852.40,633.20 851.60,628.00 C850.80,622.80 847.67,611.33 846.60,606.00 C845.53,600.67 844.09,593.47 843.60,588.00 C843.11,582.53 843.91,569.69 842.90,565.00 C841.89,560.31 837.11,555.73 836.00,552.80 C834.89,549.87 834.97,545.61 834.60,543.00 C834.23,540.39 833.55,535.73 833.20,533.20 C832.85,530.67 830.88,526.03 832.00,524.00 C833.12,521.97 838.93,518.33 841.60,518.00 Z" fill="#a51a24"/>
<ellipse cx="883.2" cy="618.1" rx="5.6" ry="9.4" transform="rotate(10 883.2 618.1)" fill="url(#cD)" stroke="#7a101a" stroke-opacity="0.35" stroke-width="0.7"/>
<ellipse cx="866.2" cy="688.5" rx="4.5" ry="8.1" transform="rotate(-24 866.2 688.5)" fill="url(#cD)" stroke="#7a101a" stroke-opacity="0.35" stroke-width="0.7"/>
<ellipse cx="834.9" cy="692.1" rx="6.1" ry="9.1" transform="rotate(-55 834.9 692.1)" fill="url(#cB)" stroke="#7a101a" stroke-opacity="0.35" stroke-width="0.7"/>
<ellipse cx="867.6" cy="650.3" rx="5.4" ry="8.6" transform="rotate(122 867.6 650.3)" fill="url(#cK)" stroke="#7a101a" stroke-opacity="0.35" stroke-width="0.7"/>
<ellipse cx="855.2" cy="699.1" rx="6.3" ry="9.7" transform="rotate(197 855.2 699.1)" fill="url(#cK)" stroke="#7a101a" stroke-opacity="0.35" stroke-width="0.7"/>
<ellipse cx="858.6" cy="660.4" rx="5.2" ry="9.4" transform="rotate(153 858.6 660.4)" fill="url(#cK)" stroke="#7a101a" stroke-opacity="0.35" stroke-width="0.7"/>
<ellipse cx="848.0" cy="567.4" rx="5.5" ry="8.2" transform="rotate(-52 848.0 567.4)" fill="url(#cD)" stroke="#7a101a" stroke-opacity="0.35" stroke-width="0.7"/>
<ellipse cx="874.1" cy="604.1" rx="7.1" ry="9.2" transform="rotate(166 874.1 604.1)" fill="url(#cK)" stroke="#7a101a" stroke-opacity="0.35" stroke-width="0.7"/>
<ellipse cx="862.1" cy="614.2" rx="5.0" ry="8.3" transform="rotate(28 862.1 614.2)" fill="url(#cB)" stroke="#7a101a" stroke-opacity="0.35" stroke-width="0.7"/>
<ellipse cx="847.3" cy="708.2" rx="4.8" ry="7.8" transform="rotate(-13 847.3 708.2)" fill="url(#cK)" stroke="#7a101a" stroke-opacity="0.35" stroke-width="0.7"/>
<ellipse cx="840.3" cy="551.1" rx="6.0" ry="10.6" transform="rotate(38 840.3 551.1)" fill="url(#cK)" stroke="#7a101a" stroke-opacity="0.35" stroke-width="0.7"/>
<ellipse cx="844.1" cy="558.8" rx="7.0" ry="9.6" transform="rotate(53 844.1 558.8)" fill="url(#cM)" stroke="#7a101a" stroke-opacity="0.35" stroke-width="0.7"/>
<ellipse cx="841.1" cy="722.3" rx="6.3" ry="9.9" transform="rotate(12 841.1 722.3)" fill="url(#cK)" stroke="#7a101a" stroke-opacity="0.35" stroke-width="0.7"/>
<ellipse cx="843.5" cy="669.5" rx="5.2" ry="8.0" transform="rotate(219 843.5 669.5)" fill="url(#cB)" stroke="#7a101a" stroke-opacity="0.35" stroke-width="0.7"/>
<ellipse cx="864.2" cy="581.1" rx="5.0" ry="7.4" transform="rotate(26 864.2 581.1)" fill="url(#cK)" stroke="#7a101a" stroke-opacity="0.35" stroke-width="0.7"/>
<ellipse cx="869.7" cy="643.7" rx="5.6" ry="7.9" transform="rotate(124 869.7 643.7)" fill="url(#cB)" stroke="#7a101a" stroke-opacity="0.35" stroke-width="0.7"/>
<ellipse cx="857.6" cy="675.1" rx="5.2" ry="7.6" transform="rotate(60 857.6 675.1)" fill="url(#cM)" stroke="#7a101a" stroke-opacity="0.35" stroke-width="0.7"/>
<ellipse cx="850.1" cy="665.3" rx="6.8" ry="11.1" transform="rotate(45 850.1 665.3)" fill="url(#cK)" stroke="#7a101a" stroke-opacity="0.35" stroke-width="0.7"/>
<ellipse cx="853.9" cy="688.0" rx="6.7" ry="10.6" transform="rotate(189 853.9 688.0)" fill="url(#cB)" stroke="#7a101a" stroke-opacity="0.35" stroke-width="0.7"/>
<ellipse cx="865.9" cy="600.2" rx="6.4" ry="9.9" transform="rotate(193 865.9 600.2)" fill="url(#cD)" stroke="#7a101a" stroke-opacity="0.35" stroke-width="0.7"/>
<ellipse cx="870.1" cy="624.9" rx="6.5" ry="9.5" transform="rotate(230 870.1 624.9)" fill="url(#cB)" stroke="#7a101a" stroke-opacity="0.35" stroke-width="0.7"/>
<ellipse cx="855.8" cy="577.2" rx="5.6" ry="8.1" transform="rotate(-10 855.8 577.2)" fill="url(#cD)" stroke="#7a101a" stroke-opacity="0.35" stroke-width="0.7"/>
<ellipse cx="848.0" cy="698.4" rx="6.6" ry="11.4" transform="rotate(-6 848.0 698.4)" fill="url(#cK)" stroke="#7a101a" stroke-opacity="0.35" stroke-width="0.7"/>
<ellipse cx="837.9" cy="528.1" rx="6.2" ry="9.7" transform="rotate(-6 837.9 528.1)" fill="url(#cK)" stroke="#7a101a" stroke-opacity="0.35" stroke-width="0.7"/>
<ellipse cx="866.2" cy="658.8" rx="7.1" ry="10.2" transform="rotate(55 866.2 658.8)" fill="url(#cB)" stroke="#7a101a" stroke-opacity="0.35" stroke-width="0.7"/>
<ellipse cx="865.3" cy="680.6" rx="6.2" ry="9.3" transform="rotate(35 865.3 680.6)" fill="url(#cM)" stroke="#7a101a" stroke-opacity="0.35" stroke-width="0.7"/>
<ellipse cx="866.8" cy="672.3" rx="5.6" ry="8.5" transform="rotate(228 866.8 672.3)" fill="url(#cK)" stroke="#7a101a" stroke-opacity="0.35" stroke-width="0.7"/>
<ellipse cx="878.5" cy="638.4" rx="5.0" ry="8.7" transform="rotate(-14 878.5 638.4)" fill="url(#cK)" stroke="#7a101a" stroke-opacity="0.35" stroke-width="0.7"/>
<ellipse cx="841.8" cy="700.9" rx="6.2" ry="9.8" transform="rotate(183 841.8 700.9)" fill="url(#cK)" stroke="#7a101a" stroke-opacity="0.35" stroke-width="0.7"/>
<ellipse cx="860.7" cy="626.2" rx="6.8" ry="8.5" transform="rotate(123 860.7 626.2)" fill="url(#cK)" stroke="#7a101a" stroke-opacity="0.35" stroke-width="0.7"/>
<ellipse cx="860.9" cy="607.0" rx="7.1" ry="10.9" transform="rotate(231 860.9 607.0)" fill="url(#cD)" stroke="#7a101a" stroke-opacity="0.35" stroke-width="0.7"/>
<ellipse cx="857.3" cy="586.2" rx="5.2" ry="8.1" transform="rotate(14 857.3 586.2)" fill="url(#cD)" stroke="#7a101a" stroke-opacity="0.35" stroke-width="0.7"/>
<ellipse cx="835.8" cy="675.1" rx="4.6" ry="7.3" transform="rotate(181 835.8 675.1)" fill="url(#cD)" stroke="#7a101a" stroke-opacity="0.35" stroke-width="0.7"/>
<ellipse cx="851.5" cy="606.9" rx="6.3" ry="9.2" transform="rotate(139 851.5 606.9)" fill="url(#cD)" stroke="#7a101a" stroke-opacity="0.35" stroke-width="0.7"/>
<ellipse cx="866.7" cy="631.9" rx="6.2" ry="9.4" transform="rotate(13 866.7 631.9)" fill="url(#cD)" stroke="#7a101a" stroke-opacity="0.35" stroke-width="0.7"/>
<ellipse cx="847.9" cy="716.4" rx="5.3" ry="8.5" transform="rotate(240 847.9 716.4)" fill="url(#cK)" stroke="#7a101a" stroke-opacity="0.35" stroke-width="0.7"/>
<ellipse cx="868.3" cy="590.6" rx="6.8" ry="10.2" transform="rotate(188 868.3 590.6)" fill="url(#cK)" stroke="#7a101a" stroke-opacity="0.35" stroke-width="0.7"/>
<ellipse cx="860.2" cy="646.5" rx="6.3" ry="8.5" transform="rotate(154 860.2 646.5)" fill="url(#cK)" stroke="#7a101a" stroke-opacity="0.35" stroke-width="0.7"/>
<ellipse cx="854.6" cy="620.7" rx="7.6" ry="11.0" transform="rotate(149 854.6 620.7)" fill="url(#cD)" stroke="#7a101a" stroke-opacity="0.35" stroke-width="0.7"/>
<ellipse cx="874.7" cy="632.1" rx="6.9" ry="10.0" transform="rotate(54 874.7 632.1)" fill="url(#cK)" stroke="#7a101a" stroke-opacity="0.35" stroke-width="0.7"/>
<ellipse cx="836.3" cy="709.9" rx="5.6" ry="9.8" transform="rotate(195 836.3 709.9)" fill="url(#cB)" stroke="#7a101a" stroke-opacity="0.35" stroke-width="0.7"/>
<ellipse cx="861.6" cy="653.7" rx="5.8" ry="8.0" transform="rotate(177 861.6 653.7)" fill="url(#cM)" stroke="#7a101a" stroke-opacity="0.35" stroke-width="0.7"/>
<ellipse cx="842.0" cy="671.6" rx="12" ry="8" transform="rotate(-25 842.0 671.6)" fill="#8e1622"/>
<ellipse cx="865.0" cy="687" rx="6" ry="12" transform="rotate(-5 865.0 687)" fill="#dc2329"/>
<ellipse cx="853.0" cy="700" rx="7.5" ry="13" transform="rotate(20 853.0 700)" fill="#d01f27"/>
<ellipse cx="845.5" cy="706.6" rx="10" ry="12.2" transform="rotate(25 845.5 706.6)" fill="#901724"/>
<ellipse cx="840.6" cy="722" rx="8.6" ry="11.2" transform="rotate(5 840.6 722)" fill="#8a1522"/>
<ellipse cx="878.7" cy="646.2" rx="7" ry="12" transform="rotate(12 878.7 646.2)" fill="#d21f27"/>
<ellipse cx="841.8" cy="524.6" rx="11" ry="6.4" transform="rotate(10 841.8 524.6)" fill="url(#cM)"/>
<ellipse cx="840" cy="537" rx="7" ry="8" transform="rotate(0 840 537)" fill="#b81a22"/>
<path d="M839.07,550.74 C838.56,552.54 836.70,556.51 835.98,561.56 C835.26,566.62 834.60,574.23 834.75,581.07 C834.91,587.91 835.71,596.61 836.91,602.61 C838.11,608.61 840.33,612.69 841.94,617.07 C843.55,621.45 845.51,625.37 846.58,628.89 C847.65,632.41 848.15,635.40 848.36,638.22 C848.57,641.03 848.48,643.48 847.84,645.77 C847.20,648.05 845.97,650.46 844.51,651.94 C843.05,653.43 841.28,654.59 839.08,654.67 C836.87,654.75 832.34,652.92 831.27,652.41 C830.20,651.90 832.42,651.74 832.65,651.60 L832.65,672.90 C833.38,672.76 834.97,673.52 837.03,672.09 C839.09,670.66 842.76,667.00 845.02,664.33 C847.29,661.66 849.12,658.91 850.59,656.06 C852.06,653.21 853.20,650.28 853.86,647.23 C854.52,644.19 854.77,641.14 854.54,637.78 C854.32,634.43 853.65,630.92 852.52,627.11 C851.39,623.30 849.35,619.21 847.76,614.93 C846.17,610.64 844.12,607.06 842.99,601.39 C841.85,595.73 841.09,587.42 840.95,580.93 C840.80,574.44 841.44,567.18 842.12,562.44 C842.80,557.69 844.54,554.12 845.03,552.46 Z" fill="#f2a298"/><circle cx="842.0" cy="551.6" r="3.1" fill="#f2a298"/>
<path d="M882.10,440.91 C882.03,443.40 881.83,451.40 881.70,455.90 C881.58,460.39 881.49,463.88 881.35,467.87 C881.22,471.86 881.08,475.54 880.90,479.84 C880.73,484.14 880.74,489.10 880.32,493.67 C879.90,498.25 879.36,502.76 878.38,507.30 C877.39,511.84 876.07,516.36 874.40,520.91 C872.73,525.46 870.37,530.68 868.35,534.60 C866.33,538.51 863.97,541.29 862.27,544.40 C860.58,547.51 859.03,550.66 858.18,553.27 C857.33,555.88 857.33,558.93 857.16,560.06 L860.44,560.94 C860.84,559.97 861.71,557.42 862.82,555.13 C863.93,552.84 865.32,550.15 867.13,547.20 C868.93,544.24 871.47,541.42 873.65,537.40 C875.83,533.39 878.37,527.87 880.20,523.09 C882.03,518.30 883.51,513.50 884.62,508.70 C885.74,503.91 886.37,499.09 886.88,494.33 C887.40,489.57 887.47,484.52 887.70,480.16 C887.92,475.79 888.08,472.14 888.25,468.13 C888.41,464.12 888.56,460.61 888.70,456.10 C888.84,451.60 889.03,443.60 889.10,441.09 Z" fill="url(#ag3)"/><path d="M885.6,412.8 L897.6,443.4 Q891.6,442.2 889.1,441.4 L882.1,441.4 Q879.6,442.2 873.6,443.4 Z" fill="#4b6a3f"/>
<ellipse cx="863.8" cy="476.2" rx="7.0" ry="10.2" transform="rotate(-25 863.8 476.2)" fill="#5a1a10" opacity="0.38" filter="url(#bl)"/><ellipse cx="861.8" cy="475.2" rx="7.0" ry="10.2" transform="rotate(-25 861.8 475.2)" fill="url(#cK)"/>
<path d="M-0.00,-11.25 C-0.88,-11.25 -2.36,-10.57 -3.03,-10.23 C-3.70,-9.89 -3.76,-9.55 -4.03,-9.20 C-4.29,-8.86 -4.46,-8.52 -4.63,-8.18 C-4.79,-7.84 -4.91,-7.50 -5.03,-7.16 C-5.14,-6.82 -5.23,-6.48 -5.32,-6.14 C-5.40,-5.80 -5.47,-5.45 -5.54,-5.11 C-5.60,-4.77 -5.66,-4.43 -5.71,-4.09 C-5.76,-3.75 -5.80,-3.41 -5.84,-3.07 C-5.87,-2.73 -5.90,-2.39 -5.93,-2.05 C-5.95,-1.70 -5.97,-1.36 -5.98,-1.02 C-5.99,-0.68 -6.00,-0.34 -6.00,0.00 C-6.00,0.34 -5.99,0.68 -5.98,1.02 C-5.97,1.36 -5.95,1.70 -5.93,2.05 C-5.90,2.39 -5.87,2.73 -5.84,3.07 C-5.80,3.41 -5.76,3.75 -5.71,4.09 C-5.66,4.43 -5.60,4.77 -5.54,5.11 C-5.47,5.45 -5.40,5.80 -5.32,6.14 C-5.23,6.48 -5.14,6.82 -5.03,7.16 C-4.91,7.50 -4.79,7.84 -4.63,8.18 C-4.46,8.52 -4.29,8.86 -4.03,9.20 C-3.76,9.55 -3.70,9.89 -3.03,10.23 C-2.36,10.57 -0.88,11.25 -0.00,11.25 C0.88,11.25 1.84,10.57 2.27,10.23 C2.70,9.89 2.53,9.55 2.57,9.20 C2.62,8.86 2.58,8.52 2.55,8.18 C2.53,7.84 2.46,7.50 2.41,7.16 C2.36,6.82 2.29,6.48 2.23,6.14 C2.17,5.80 2.10,5.45 2.05,5.11 C1.99,4.77 1.94,4.43 1.89,4.09 C1.84,3.75 1.80,3.41 1.76,3.07 C1.73,2.73 1.70,2.39 1.67,2.05 C1.65,1.70 1.63,1.36 1.62,1.02 C1.61,0.68 1.60,0.34 1.60,0.00 C1.60,-0.34 1.61,-0.68 1.62,-1.02 C1.63,-1.36 1.65,-1.70 1.67,-2.05 C1.70,-2.39 1.73,-2.73 1.76,-3.07 C1.80,-3.41 1.84,-3.75 1.89,-4.09 C1.94,-4.43 1.99,-4.77 2.05,-5.11 C2.10,-5.45 2.17,-5.80 2.23,-6.14 C2.29,-6.48 2.36,-6.82 2.41,-7.16 C2.46,-7.50 2.53,-7.84 2.55,-8.18 C2.58,-8.52 2.62,-8.86 2.57,-9.20 C2.53,-9.55 2.70,-9.89 2.27,-10.23 C1.84,-10.57 0.88,-11.25 -0.00,-11.25 Z" transform="translate(905.3 462.6) rotate(-30)" fill="#5a1a10" opacity="0.35" filter="url(#bl)"/><path d="M-0.00,-11.25 C-0.88,-11.25 -2.36,-10.57 -3.03,-10.23 C-3.70,-9.89 -3.76,-9.55 -4.03,-9.20 C-4.29,-8.86 -4.46,-8.52 -4.63,-8.18 C-4.79,-7.84 -4.91,-7.50 -5.03,-7.16 C-5.14,-6.82 -5.23,-6.48 -5.32,-6.14 C-5.40,-5.80 -5.47,-5.45 -5.54,-5.11 C-5.60,-4.77 -5.66,-4.43 -5.71,-4.09 C-5.76,-3.75 -5.80,-3.41 -5.84,-3.07 C-5.87,-2.73 -5.90,-2.39 -5.93,-2.05 C-5.95,-1.70 -5.97,-1.36 -5.98,-1.02 C-5.99,-0.68 -6.00,-0.34 -6.00,0.00 C-6.00,0.34 -5.99,0.68 -5.98,1.02 C-5.97,1.36 -5.95,1.70 -5.93,2.05 C-5.90,2.39 -5.87,2.73 -5.84,3.07 C-5.80,3.41 -5.76,3.75 -5.71,4.09 C-5.66,4.43 -5.60,4.77 -5.54,5.11 C-5.47,5.45 -5.40,5.80 -5.32,6.14 C-5.23,6.48 -5.14,6.82 -5.03,7.16 C-4.91,7.50 -4.79,7.84 -4.63,8.18 C-4.46,8.52 -4.29,8.86 -4.03,9.20 C-3.76,9.55 -3.70,9.89 -3.03,10.23 C-2.36,10.57 -0.88,11.25 -0.00,11.25 C0.88,11.25 1.84,10.57 2.27,10.23 C2.70,9.89 2.53,9.55 2.57,9.20 C2.62,8.86 2.58,8.52 2.55,8.18 C2.53,7.84 2.46,7.50 2.41,7.16 C2.36,6.82 2.29,6.48 2.23,6.14 C2.17,5.80 2.10,5.45 2.05,5.11 C1.99,4.77 1.94,4.43 1.89,4.09 C1.84,3.75 1.80,3.41 1.76,3.07 C1.73,2.73 1.70,2.39 1.67,2.05 C1.65,1.70 1.63,1.36 1.62,1.02 C1.61,0.68 1.60,0.34 1.60,0.00 C1.60,-0.34 1.61,-0.68 1.62,-1.02 C1.63,-1.36 1.65,-1.70 1.67,-2.05 C1.70,-2.39 1.73,-2.73 1.76,-3.07 C1.80,-3.41 1.84,-3.75 1.89,-4.09 C1.94,-4.43 1.99,-4.77 2.05,-5.11 C2.10,-5.45 2.17,-5.80 2.23,-6.14 C2.29,-6.48 2.36,-6.82 2.41,-7.16 C2.46,-7.50 2.53,-7.84 2.55,-8.18 C2.58,-8.52 2.62,-8.86 2.57,-9.20 C2.53,-9.55 2.70,-9.89 2.27,-10.23 C1.84,-10.57 0.88,-11.25 -0.00,-11.25 Z" transform="translate(904.3 461.6) rotate(-30)" fill="url(#cBc)"/>
<ellipse cx="905.6" cy="511.1" rx="7.4" ry="8.6" transform="rotate(35 905.6 511.1)" fill="#5a1a10" opacity="0.38" filter="url(#bl)"/><ellipse cx="907.1" cy="510.1" rx="7.4" ry="8.6" transform="rotate(35 907.1 510.1)" fill="url(#cB)"/>
<ellipse cx="891.4" cy="567.1" rx="5.8" ry="8.8" transform="rotate(14 891.4 567.1)" fill="#5a1a10" opacity="0.38" filter="url(#bl)"/><ellipse cx="893.4" cy="566.1" rx="5.8" ry="8.8" transform="rotate(14 893.4 566.1)" fill="url(#cK)"/>
<ellipse cx="897.2" cy="688.8" rx="9.0" ry="14.6" transform="rotate(-25 897.2 688.8)" fill="#5a1a10" opacity="0.38" filter="url(#bl)"/><ellipse cx="899.7" cy="686.8" rx="9.0" ry="14.6" transform="rotate(-25 899.7 686.8)" fill="url(#cM)"/>
<ellipse cx="872.7" cy="765.7" rx="8.6" ry="13.6" transform="rotate(27 872.7 765.7)" fill="#5a1a10" opacity="0.38" filter="url(#bl)"/><ellipse cx="875.2" cy="764.2" rx="8.6" ry="13.6" transform="rotate(27 875.2 764.2)" fill="url(#cB)"/>
<path d="M-0.00,-14.00 C-1.00,-14.00 -2.54,-13.15 -3.24,-12.73 C-3.94,-12.30 -3.95,-11.88 -4.20,-11.45 C-4.44,-11.03 -4.58,-10.61 -4.72,-10.18 C-4.86,-9.76 -4.95,-9.33 -5.04,-8.91 C-5.13,-8.48 -5.19,-8.06 -5.25,-7.64 C-5.31,-7.21 -5.36,-6.79 -5.40,-6.36 C-5.45,-5.94 -5.48,-5.52 -5.51,-5.09 C-5.55,-4.67 -5.57,-4.24 -5.60,-3.82 C-5.62,-3.39 -5.64,-2.97 -5.65,-2.55 C-5.67,-2.12 -5.68,-1.70 -5.69,-1.27 C-5.70,-0.85 -5.70,-0.42 -5.70,0.00 C-5.70,0.42 -5.70,0.85 -5.69,1.27 C-5.68,1.70 -5.67,2.12 -5.65,2.55 C-5.64,2.97 -5.62,3.39 -5.60,3.82 C-5.57,4.24 -5.55,4.67 -5.51,5.09 C-5.48,5.52 -5.45,5.94 -5.40,6.36 C-5.36,6.79 -5.31,7.21 -5.25,7.64 C-5.19,8.06 -5.13,8.48 -5.04,8.91 C-4.95,9.33 -4.86,9.76 -4.72,10.18 C-4.58,10.61 -4.44,11.03 -4.20,11.45 C-3.95,11.88 -3.94,12.30 -3.24,12.73 C-2.54,13.15 -1.00,14.00 -0.00,14.00 C1.00,14.00 2.21,13.15 2.76,12.73 C3.30,12.30 3.16,11.88 3.27,11.45 C3.38,11.03 3.39,10.61 3.40,10.18 C3.42,9.76 3.39,9.33 3.38,8.91 C3.36,8.48 3.32,8.06 3.29,7.64 C3.25,7.21 3.21,6.79 3.18,6.36 C3.15,5.94 3.11,5.52 3.08,5.09 C3.05,4.67 3.03,4.24 3.00,3.82 C2.98,3.39 2.96,2.97 2.95,2.55 C2.93,2.12 2.92,1.70 2.91,1.27 C2.90,0.85 2.90,0.42 2.90,0.00 C2.90,-0.42 2.90,-0.85 2.91,-1.27 C2.92,-1.70 2.93,-2.12 2.95,-2.55 C2.96,-2.97 2.98,-3.39 3.00,-3.82 C3.03,-4.24 3.05,-4.67 3.08,-5.09 C3.11,-5.52 3.15,-5.94 3.18,-6.36 C3.21,-6.79 3.25,-7.21 3.29,-7.64 C3.32,-8.06 3.36,-8.48 3.38,-8.91 C3.39,-9.33 3.42,-9.76 3.40,-10.18 C3.39,-10.61 3.38,-11.03 3.27,-11.45 C3.16,-11.88 3.30,-12.30 2.76,-12.73 C2.21,-13.15 1.00,-14.00 -0.00,-14.00 Z" transform="translate(906.4 792.0) rotate(-22)" fill="#5a1a10" opacity="0.35" filter="url(#bl)"/><path d="M-0.00,-14.00 C-1.00,-14.00 -2.54,-13.15 -3.24,-12.73 C-3.94,-12.30 -3.95,-11.88 -4.20,-11.45 C-4.44,-11.03 -4.58,-10.61 -4.72,-10.18 C-4.86,-9.76 -4.95,-9.33 -5.04,-8.91 C-5.13,-8.48 -5.19,-8.06 -5.25,-7.64 C-5.31,-7.21 -5.36,-6.79 -5.40,-6.36 C-5.45,-5.94 -5.48,-5.52 -5.51,-5.09 C-5.55,-4.67 -5.57,-4.24 -5.60,-3.82 C-5.62,-3.39 -5.64,-2.97 -5.65,-2.55 C-5.67,-2.12 -5.68,-1.70 -5.69,-1.27 C-5.70,-0.85 -5.70,-0.42 -5.70,0.00 C-5.70,0.42 -5.70,0.85 -5.69,1.27 C-5.68,1.70 -5.67,2.12 -5.65,2.55 C-5.64,2.97 -5.62,3.39 -5.60,3.82 C-5.57,4.24 -5.55,4.67 -5.51,5.09 C-5.48,5.52 -5.45,5.94 -5.40,6.36 C-5.36,6.79 -5.31,7.21 -5.25,7.64 C-5.19,8.06 -5.13,8.48 -5.04,8.91 C-4.95,9.33 -4.86,9.76 -4.72,10.18 C-4.58,10.61 -4.44,11.03 -4.20,11.45 C-3.95,11.88 -3.94,12.30 -3.24,12.73 C-2.54,13.15 -1.00,14.00 -0.00,14.00 C1.00,14.00 2.21,13.15 2.76,12.73 C3.30,12.30 3.16,11.88 3.27,11.45 C3.38,11.03 3.39,10.61 3.40,10.18 C3.42,9.76 3.39,9.33 3.38,8.91 C3.36,8.48 3.32,8.06 3.29,7.64 C3.25,7.21 3.21,6.79 3.18,6.36 C3.15,5.94 3.11,5.52 3.08,5.09 C3.05,4.67 3.03,4.24 3.00,3.82 C2.98,3.39 2.96,2.97 2.95,2.55 C2.93,2.12 2.92,1.70 2.91,1.27 C2.90,0.85 2.90,0.42 2.90,0.00 C2.90,-0.42 2.90,-0.85 2.91,-1.27 C2.92,-1.70 2.93,-2.12 2.95,-2.55 C2.96,-2.97 2.98,-3.39 3.00,-3.82 C3.03,-4.24 3.05,-4.67 3.08,-5.09 C3.11,-5.52 3.15,-5.94 3.18,-6.36 C3.21,-6.79 3.25,-7.21 3.29,-7.64 C3.32,-8.06 3.36,-8.48 3.38,-8.91 C3.39,-9.33 3.42,-9.76 3.40,-10.18 C3.39,-10.61 3.38,-11.03 3.27,-11.45 C3.16,-11.88 3.30,-12.30 2.76,-12.73 C2.21,-13.15 1.00,-14.00 -0.00,-14.00 Z" transform="translate(904.9 791.0) rotate(-22)" fill="url(#cBc)"/>
<ellipse cx="879.8" cy="840.4" rx="10.4" ry="13.0" transform="rotate(34 879.8 840.4)" fill="#5a1a10" opacity="0.38" filter="url(#bl)"/><ellipse cx="877.8" cy="838.4" rx="10.4" ry="13.0" transform="rotate(34 877.8 838.4)" fill="url(#cD)"/>
<ellipse cx="910.1" cy="842.2" rx="5" ry="7" transform="rotate(15 910.1 842.2)" fill="#8a4a28" opacity="0.45" filter="url(#bl)"/>
<path d="M868.00,276.00 C871.31,275.23 877.01,274.89 880.00,275.00 C882.99,275.11 887.95,276.35 890.40,276.80 C892.85,277.25 895.84,276.80 898.40,278.40 C900.96,280.00 907.25,285.92 909.60,288.80 C911.95,291.68 914.29,297.01 916.00,300.00 C917.71,302.99 921.87,308.00 922.40,311.20 C922.93,314.40 920.93,321.69 920.00,324.00 C919.07,326.31 915.72,326.37 915.40,328.50 C915.08,330.63 916.67,336.33 917.60,340.00 C918.53,343.67 922.19,352.59 922.40,356.00 C922.61,359.41 920.27,363.25 919.20,365.60 C918.13,367.95 915.04,371.47 914.40,373.60 C913.76,375.73 915.47,379.68 914.40,381.60 C913.33,383.52 908.96,386.29 906.40,388.00 C903.84,389.71 897.55,392.69 895.20,394.40 C892.85,396.11 890.51,399.52 888.80,400.80 C887.09,402.08 884.32,404.21 882.40,404.00 C880.48,403.79 876.75,399.84 874.40,399.20 C872.05,398.56 866.93,400.27 864.80,399.20 C862.67,398.13 860.21,392.91 858.40,391.20 C856.59,389.49 852.05,388.11 851.20,386.40 C850.35,384.69 851.25,379.89 852.00,378.40 C852.75,376.91 856.59,376.91 856.80,375.20 C857.01,373.49 854.99,368.16 853.60,365.60 C852.21,363.04 847.25,358.56 846.40,356.00 C845.55,353.44 846.52,348.53 847.20,346.40 C847.88,344.27 851.71,341.92 851.50,340.00 C851.29,338.08 847.03,334.77 845.60,332.00 C844.17,329.23 841.01,322.19 840.80,319.20 C840.59,316.21 842.93,311.73 844.00,309.60 C845.07,307.47 847.73,304.69 848.80,303.20 C849.87,301.71 851.89,300.32 852.00,298.40 C852.11,296.48 849.17,291.15 849.60,288.80 C850.03,286.45 852.75,282.51 855.20,280.80 C857.65,279.09 864.69,276.77 868.00,276.00 Z" fill="#b81a22"/>
<ellipse cx="889.1" cy="329.7" rx="5.7" ry="8.7" transform="rotate(136 889.1 329.7)" fill="url(#cB)" stroke="#7a101a" stroke-opacity="0.35" stroke-width="0.7"/>
<ellipse cx="856.5" cy="332.3" rx="4.5" ry="7.1" transform="rotate(175 856.5 332.3)" fill="url(#cK)" stroke="#7a101a" stroke-opacity="0.35" stroke-width="0.7"/>
<ellipse cx="898.7" cy="329.3" rx="5.5" ry="9.4" transform="rotate(208 898.7 329.3)" fill="url(#cD)" stroke="#7a101a" stroke-opacity="0.35" stroke-width="0.7"/>
<ellipse cx="870.1" cy="282.4" rx="6.9" ry="9.7" transform="rotate(11 870.1 282.4)" fill="url(#cB)" stroke="#7a101a" stroke-opacity="0.35" stroke-width="0.7"/>
<ellipse cx="894.5" cy="355.1" rx="5.7" ry="10.9" transform="rotate(164 894.5 355.1)" fill="url(#cB)" stroke="#7a101a" stroke-opacity="0.35" stroke-width="0.7"/>
<ellipse cx="902.8" cy="322.6" rx="6.5" ry="8.9" transform="rotate(199 902.8 322.6)" fill="url(#cM)" stroke="#7a101a" stroke-opacity="0.35" stroke-width="0.7"/>
<ellipse cx="879.5" cy="367.6" rx="5.2" ry="9.4" transform="rotate(174 879.5 367.6)" fill="url(#cB)" stroke="#7a101a" stroke-opacity="0.35" stroke-width="0.7"/>
<ellipse cx="893.2" cy="298.5" rx="5.5" ry="8.2" transform="rotate(-21 893.2 298.5)" fill="url(#cK)" stroke="#7a101a" stroke-opacity="0.35" stroke-width="0.7"/>
<ellipse cx="907.4" cy="300.2" rx="4.8" ry="7.4" transform="rotate(-48 907.4 300.2)" fill="url(#cB)" stroke="#7a101a" stroke-opacity="0.35" stroke-width="0.7"/>
<ellipse cx="887.5" cy="380.9" rx="5.2" ry="8.1" transform="rotate(164 887.5 380.9)" fill="url(#cK)" stroke="#7a101a" stroke-opacity="0.35" stroke-width="0.7"/>
<ellipse cx="864.3" cy="314.3" rx="6.3" ry="8.6" transform="rotate(186 864.3 314.3)" fill="url(#cB)" stroke="#7a101a" stroke-opacity="0.35" stroke-width="0.7"/>
<ellipse cx="861.9" cy="288.8" rx="7.0" ry="9.9" transform="rotate(25 861.9 288.8)" fill="url(#cM)" stroke="#7a101a" stroke-opacity="0.35" stroke-width="0.7"/>
<ellipse cx="885.3" cy="393.5" rx="5.9" ry="9.7" transform="rotate(53 885.3 393.5)" fill="url(#cB)" stroke="#7a101a" stroke-opacity="0.35" stroke-width="0.7"/>
<ellipse cx="878.8" cy="300.4" rx="6.8" ry="10.3" transform="rotate(54 878.8 300.4)" fill="url(#cD)" stroke="#7a101a" stroke-opacity="0.35" stroke-width="0.7"/>
<ellipse cx="868.8" cy="390.1" rx="6.1" ry="9.1" transform="rotate(227 868.8 390.1)" fill="url(#cB)" stroke="#7a101a" stroke-opacity="0.35" stroke-width="0.7"/>
<ellipse cx="897.4" cy="382.0" rx="6.4" ry="8.7" transform="rotate(-31 897.4 382.0)" fill="url(#cM)" stroke="#7a101a" stroke-opacity="0.35" stroke-width="0.7"/>
<ellipse cx="864.9" cy="327.8" rx="6.2" ry="9.1" transform="rotate(187 864.9 327.8)" fill="url(#cD)" stroke="#7a101a" stroke-opacity="0.35" stroke-width="0.7"/>
<ellipse cx="867.9" cy="347.2" rx="7.1" ry="9.9" transform="rotate(-30 867.9 347.2)" fill="url(#cB)" stroke="#7a101a" stroke-opacity="0.35" stroke-width="0.7"/>
<ellipse cx="886.7" cy="344.9" rx="5.2" ry="7.9" transform="rotate(7 886.7 344.9)" fill="url(#cM)" stroke="#7a101a" stroke-opacity="0.35" stroke-width="0.7"/>
<ellipse cx="879.2" cy="333.0" rx="6.2" ry="8.7" transform="rotate(120 879.2 333.0)" fill="url(#cK)" stroke="#7a101a" stroke-opacity="0.35" stroke-width="0.7"/>
<ellipse cx="871.6" cy="376.3" rx="5.5" ry="7.2" transform="rotate(44 871.6 376.3)" fill="url(#cB)" stroke="#7a101a" stroke-opacity="0.35" stroke-width="0.7"/>
<ellipse cx="857.4" cy="362.9" rx="5.3" ry="7.4" transform="rotate(-6 857.4 362.9)" fill="url(#cK)" stroke="#7a101a" stroke-opacity="0.35" stroke-width="0.7"/>
<ellipse cx="897.9" cy="336.9" rx="5.6" ry="8.8" transform="rotate(5 897.9 336.9)" fill="url(#cK)" stroke="#7a101a" stroke-opacity="0.35" stroke-width="0.7"/>
<ellipse cx="911.3" cy="339.2" rx="6.9" ry="10.2" transform="rotate(201 911.3 339.2)" fill="url(#cB)" stroke="#7a101a" stroke-opacity="0.35" stroke-width="0.7"/>
<ellipse cx="890.2" cy="312.6" rx="5.1" ry="7.8" transform="rotate(162 890.2 312.6)" fill="url(#cB)" stroke="#7a101a" stroke-opacity="0.35" stroke-width="0.7"/>
<ellipse cx="879.8" cy="346.4" rx="5.0" ry="7.4" transform="rotate(153 879.8 346.4)" fill="url(#cB)" stroke="#7a101a" stroke-opacity="0.35" stroke-width="0.7"/>
<ellipse cx="862.3" cy="384.9" rx="6.4" ry="8.0" transform="rotate(133 862.3 384.9)" fill="url(#cB)" stroke="#7a101a" stroke-opacity="0.35" stroke-width="0.7"/>
<ellipse cx="878.6" cy="290.6" rx="5.8" ry="8.5" transform="rotate(173 878.6 290.6)" fill="url(#cK)" stroke="#7a101a" stroke-opacity="0.35" stroke-width="0.7"/>
<ellipse cx="910.8" cy="308.4" rx="5.9" ry="10.3" transform="rotate(150 910.8 308.4)" fill="url(#cB)" stroke="#7a101a" stroke-opacity="0.35" stroke-width="0.7"/>
<ellipse cx="873.1" cy="362.6" rx="5.6" ry="8.1" transform="rotate(129 873.1 362.6)" fill="url(#cB)" stroke="#7a101a" stroke-opacity="0.35" stroke-width="0.7"/>
<ellipse cx="915.5" cy="359.5" rx="4.5" ry="7.3" transform="rotate(57 915.5 359.5)" fill="url(#cK)" stroke="#7a101a" stroke-opacity="0.35" stroke-width="0.7"/>
<ellipse cx="907.8" cy="352.8" rx="5.2" ry="8.4" transform="rotate(-21 907.8 352.8)" fill="url(#cB)" stroke="#7a101a" stroke-opacity="0.35" stroke-width="0.7"/>
<ellipse cx="875.6" cy="315.9" rx="5.8" ry="8.2" transform="rotate(184 875.6 315.9)" fill="url(#cK)" stroke="#7a101a" stroke-opacity="0.35" stroke-width="0.7"/>
<ellipse cx="910.9" cy="331.2" rx="6.1" ry="9.0" transform="rotate(18 910.9 331.2)" fill="url(#cK)" stroke="#7a101a" stroke-opacity="0.35" stroke-width="0.7"/>
<ellipse cx="851.3" cy="324.0" rx="6.1" ry="9.9" transform="rotate(220 851.3 324.0)" fill="url(#cB)" stroke="#7a101a" stroke-opacity="0.35" stroke-width="0.7"/>
<ellipse cx="899.9" cy="372.8" rx="6.2" ry="8.7" transform="rotate(-35 899.9 372.8)" fill="url(#cK)" stroke="#7a101a" stroke-opacity="0.35" stroke-width="0.7"/>
<ellipse cx="874.6" cy="306.7" rx="5.0" ry="7.6" transform="rotate(200 874.6 306.7)" fill="url(#cM)" stroke="#7a101a" stroke-opacity="0.35" stroke-width="0.7"/>
<ellipse cx="898.6" cy="361.2" rx="5.6" ry="8.4" transform="rotate(140 898.6 361.2)" fill="url(#cB)" stroke="#7a101a" stroke-opacity="0.35" stroke-width="0.7"/>
<ellipse cx="890.0" cy="283.2" rx="5.8" ry="8.9" transform="rotate(182 890.0 283.2)" fill="url(#cM)" stroke="#7a101a" stroke-opacity="0.35" stroke-width="0.7"/>
<ellipse cx="885.1" cy="290.7" rx="4.9" ry="7.8" transform="rotate(177 885.1 290.7)" fill="url(#cB)" stroke="#7a101a" stroke-opacity="0.35" stroke-width="0.7"/>
<ellipse cx="852.7" cy="357.7" rx="5.0" ry="8.7" transform="rotate(14 852.7 357.7)" fill="url(#cB)" stroke="#7a101a" stroke-opacity="0.35" stroke-width="0.7"/>
<ellipse cx="905.3" cy="313.1" rx="6.6" ry="9.7" transform="rotate(123 905.3 313.1)" fill="url(#cD)" stroke="#7a101a" stroke-opacity="0.35" stroke-width="0.7"/>
<ellipse cx="895.2" cy="289.5" rx="6.6" ry="9.6" transform="rotate(56 895.2 289.5)" fill="url(#cK)" stroke="#7a101a" stroke-opacity="0.35" stroke-width="0.7"/>
<ellipse cx="905.7" cy="367.9" rx="6.6" ry="9.8" transform="rotate(16 905.7 367.9)" fill="url(#cK)" stroke="#7a101a" stroke-opacity="0.35" stroke-width="0.7"/>
<ellipse cx="882.6" cy="310.1" rx="6.2" ry="8.9" transform="rotate(239 882.6 310.1)" fill="url(#cD)" stroke="#7a101a" stroke-opacity="0.35" stroke-width="0.7"/>
<ellipse cx="893.6" cy="387.9" rx="5.5" ry="7.0" transform="rotate(28 893.6 387.9)" fill="url(#cK)" stroke="#7a101a" stroke-opacity="0.35" stroke-width="0.7"/>
<ellipse cx="874.6" cy="385.1" rx="4.7" ry="8.0" transform="rotate(159 874.6 385.1)" fill="url(#cK)" stroke="#7a101a" stroke-opacity="0.35" stroke-width="0.7"/>
<ellipse cx="906.4" cy="377.6" rx="4.3" ry="7.4" transform="rotate(137 906.4 377.6)" fill="url(#cK)" stroke="#7a101a" stroke-opacity="0.35" stroke-width="0.7"/>
<ellipse cx="862.5" cy="352.4" rx="6.6" ry="10.4" transform="rotate(206 862.5 352.4)" fill="url(#cD)" stroke="#7a101a" stroke-opacity="0.35" stroke-width="0.7"/>
<ellipse cx="870.0" cy="301.5" rx="5.2" ry="8.0" transform="rotate(58 870.0 301.5)" fill="url(#cM)" stroke="#7a101a" stroke-opacity="0.35" stroke-width="0.7"/>
<ellipse cx="853.8" cy="346.0" rx="5.3" ry="8.4" transform="rotate(-55 853.8 346.0)" fill="url(#cD)" stroke="#7a101a" stroke-opacity="0.35" stroke-width="0.7"/>
<ellipse cx="892.8" cy="372.9" rx="5.6" ry="8.5" transform="rotate(126 892.8 372.9)" fill="url(#cK)" stroke="#7a101a" stroke-opacity="0.35" stroke-width="0.7"/>
<ellipse cx="880.0" cy="377.2" rx="5.6" ry="7.8" transform="rotate(20 880.0 377.2)" fill="url(#cK)" stroke="#7a101a" stroke-opacity="0.35" stroke-width="0.7"/>
<ellipse cx="871.5" cy="369.5" rx="4.4" ry="8.2" transform="rotate(226 871.5 369.5)" fill="url(#cD)" stroke="#7a101a" stroke-opacity="0.35" stroke-width="0.7"/>
<ellipse cx="868.5" cy="294.8" rx="4.7" ry="6.5" transform="rotate(-20 868.5 294.8)" fill="url(#cB)" stroke="#7a101a" stroke-opacity="0.35" stroke-width="0.7"/>
<ellipse cx="880.4" cy="320.3" rx="6.1" ry="9.4" transform="rotate(34 880.4 320.3)" fill="url(#cB)" stroke="#7a101a" stroke-opacity="0.35" stroke-width="0.7"/>
<ellipse cx="897.3" cy="308.0" rx="6.7" ry="9.4" transform="rotate(57 897.3 308.0)" fill="url(#cB)" stroke="#7a101a" stroke-opacity="0.35" stroke-width="0.7"/>
<ellipse cx="905.4" cy="290.0" rx="5.0" ry="8.0" transform="rotate(134 905.4 290.0)" fill="url(#cB)" stroke="#7a101a" stroke-opacity="0.35" stroke-width="0.7"/>
<ellipse cx="911.4" cy="320.8" rx="4.5" ry="7.3" transform="rotate(200 911.4 320.8)" fill="url(#cB)" stroke="#7a101a" stroke-opacity="0.35" stroke-width="0.7"/>
<ellipse cx="863.8" cy="340.1" rx="5.8" ry="9.3" transform="rotate(214 863.8 340.1)" fill="url(#cM)" stroke="#7a101a" stroke-opacity="0.35" stroke-width="0.7"/>
<ellipse cx="855.5" cy="382.3" rx="5.6" ry="7.6" transform="rotate(149 855.5 382.3)" fill="url(#cM)" stroke="#7a101a" stroke-opacity="0.35" stroke-width="0.7"/>
<ellipse cx="855.2" cy="299.8" rx="7.1" ry="10.6" transform="rotate(125 855.2 299.8)" fill="url(#cK)" stroke="#7a101a" stroke-opacity="0.35" stroke-width="0.7"/>
<ellipse cx="898.0" cy="315.6" rx="6.1" ry="10.3" transform="rotate(15 898.0 315.6)" fill="url(#cB)" stroke="#7a101a" stroke-opacity="0.35" stroke-width="0.7"/>
<ellipse cx="859.1" cy="306.1" rx="7.3" ry="10.0" transform="rotate(127 859.1 306.1)" fill="url(#cK)" stroke="#7a101a" stroke-opacity="0.35" stroke-width="0.7"/>
<ellipse cx="887.5" cy="364.1" rx="6.3" ry="9.9" transform="rotate(146 887.5 364.1)" fill="url(#cB)" stroke="#7a101a" stroke-opacity="0.35" stroke-width="0.7"/>
<ellipse cx="861.9" cy="296.3" rx="5.2" ry="8.7" transform="rotate(223 861.9 296.3)" fill="url(#cK)" stroke="#7a101a" stroke-opacity="0.35" stroke-width="0.7"/>
<ellipse cx="858.6" cy="321.2" rx="5.1" ry="8.3" transform="rotate(50 858.6 321.2)" fill="url(#cB)" stroke="#7a101a" stroke-opacity="0.35" stroke-width="0.7"/>
<ellipse cx="878.2" cy="358.0" rx="6.7" ry="9.0" transform="rotate(228 878.2 358.0)" fill="url(#cB)" stroke="#7a101a" stroke-opacity="0.35" stroke-width="0.7"/>
<ellipse cx="848.0" cy="313.4" rx="5.2" ry="8.9" transform="rotate(-58 848.0 313.4)" fill="url(#cK)" stroke="#7a101a" stroke-opacity="0.35" stroke-width="0.7"/>
<ellipse cx="914.9" cy="348.4" rx="6.3" ry="10.1" transform="rotate(161 914.9 348.4)" fill="url(#cB)" stroke="#7a101a" stroke-opacity="0.35" stroke-width="0.7"/>
<ellipse cx="889.0" cy="321.7" rx="5.7" ry="9.0" transform="rotate(-32 889.0 321.7)" fill="url(#cK)" stroke="#7a101a" stroke-opacity="0.35" stroke-width="0.7"/>
<ellipse cx="870.1" cy="323.7" rx="5.6" ry="8.3" transform="rotate(-36 870.1 323.7)" fill="url(#cM)" stroke="#7a101a" stroke-opacity="0.35" stroke-width="0.7"/>
<ellipse cx="877.8" cy="280.8" rx="5.1" ry="7.6" transform="rotate(238 877.8 280.8)" fill="url(#cD)" stroke="#7a101a" stroke-opacity="0.35" stroke-width="0.7"/>
<ellipse cx="904.7" cy="337.3" rx="5.2" ry="6.9" transform="rotate(-22 904.7 337.3)" fill="url(#cB)" stroke="#7a101a" stroke-opacity="0.35" stroke-width="0.7"/>
<ellipse cx="900.8" cy="344.1" rx="4.9" ry="8.7" transform="rotate(237 900.8 344.1)" fill="url(#cB)" stroke="#7a101a" stroke-opacity="0.35" stroke-width="0.7"/>
<ellipse cx="866.1" cy="363.1" rx="5.8" ry="9.9" transform="rotate(140 866.1 363.1)" fill="url(#cK)" stroke="#7a101a" stroke-opacity="0.35" stroke-width="0.7"/>
<ellipse cx="876.8" cy="394.8" rx="5.2" ry="8.3" transform="rotate(-13 876.8 394.8)" fill="url(#cK)" stroke="#7a101a" stroke-opacity="0.35" stroke-width="0.7"/>
<ellipse cx="855.4" cy="290.0" rx="5.6" ry="9.6" transform="rotate(213 855.4 290.0)" fill="url(#cD)" stroke="#7a101a" stroke-opacity="0.35" stroke-width="0.7"/>
<ellipse cx="883.1" cy="338.7" rx="5.5" ry="8.8" transform="rotate(-57 883.1 338.7)" fill="url(#cM)" stroke="#7a101a" stroke-opacity="0.35" stroke-width="0.7"/>
<ellipse cx="872.7" cy="332.6" rx="6.0" ry="9.3" transform="rotate(26 872.7 332.6)" fill="url(#cM)" stroke="#7a101a" stroke-opacity="0.35" stroke-width="0.7"/>
<ellipse cx="880" cy="330" rx="7" ry="8" transform="rotate(20 880 330)" fill="#8a1420"/>
<ellipse cx="880" cy="370" rx="6.6" ry="7.5" transform="rotate(-10 880 370)" fill="#8a1420"/>
<ellipse cx="888" cy="348" rx="5" ry="6.5" transform="rotate(30 888 348)" fill="#931622"/>
<ellipse cx="855" cy="291" rx="5" ry="7" transform="rotate(10 855 291)" fill="#931622"/>
<ellipse cx="856" cy="383" rx="5" ry="6" transform="rotate(10 856 383)" fill="#8e1521"/>
<ellipse cx="876" cy="292" rx="5.5" ry="4.5" transform="rotate(10 876 292)" fill="#961722"/>
<line x1="905" y1="317.6" x2="937.6" y2="266.2" stroke="#8b9498" stroke-width="1.9"/>
<circle cx="904.6" cy="318.4" r="4.8" fill="#a3abae"/>
</g>

</svg>
</body>
</html>
